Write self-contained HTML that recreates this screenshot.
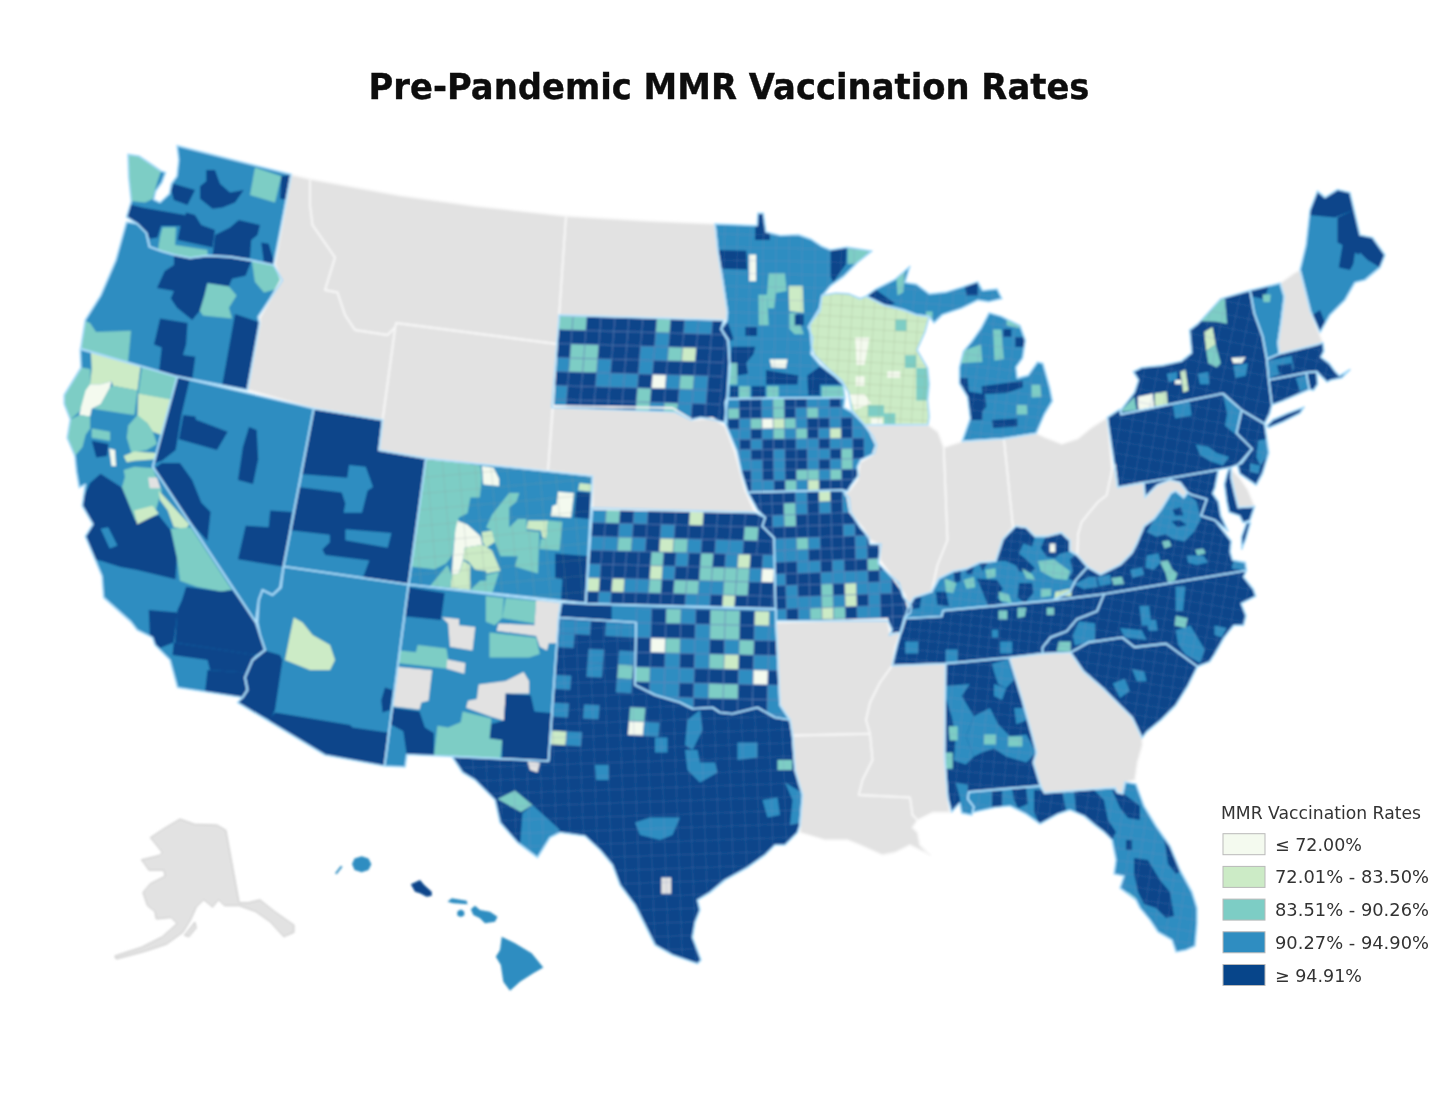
<!DOCTYPE html><html><head><meta charset="utf-8"><title>Pre-Pandemic MMR Vaccination Rates</title>
<style>html,body{margin:0;padding:0;background:#fff}body{width:1440px;height:1114px;overflow:hidden;position:relative;font-family:"Liberation Sans","DejaVu Sans",sans-serif}svg{position:absolute;left:0;top:0;display:block}</style></head><body>
<svg width="1440" height="1114" viewBox="0 0 1440 1114">
<rect width="1440" height="1114" fill="#ffffff"/>
<defs>
<clipPath id="cWA"><polygon points="128,154.4 139,156 151,164 161,171 165.6,172.5 161.9,182.5 155.6,191.25 153.75,199.4 160,202.5 169.4,193.75 171.25,183.75 176.9,176.25 178.75,160 177,145.6 291.25,174.4 273.5,265 252.5,260.6 230,256.9 207.5,255.6 190,258 175,255 161.7,251.25 149.5,246.7 146.4,233 137.2,223.75 126.5,217 131.25,201.25 128.75,177.5"/></clipPath>
<clipPath id="cOR"><polygon points="126.5,222 137.2,223.75 146.4,233 149.5,246.7 161.7,251.25 175,255 190,258 207.5,255.6 230,256.9 252.5,260.6 273.5,265 282.4,280.3 258,317 259.5,323 247.5,390 175,376 80.7,348.5 85.3,320 100.6,295.6 115.8,260.4"/></clipPath>
<clipPath id="cCA"><polygon points="80.2,349.2 177.2,376.7 152.8,466.8 255.6,622 260,635 265,650 252.5,660 245,677.5 247.5,690 242.5,697.5 177.5,687.5 170,660 155,645 152.5,637.5 137.2,630 131.1,622 103.6,597.5 102,576 94.4,557.8 85.3,536.4 92.9,524.2 82.2,505.8 85.3,484.4 79.2,487.5 76.4,471.4 74.9,456 67.2,437.8 70.3,419.5 64.2,404 64.2,395 81,367.5"/></clipPath>
<clipPath id="cNV"><polygon points="177.2,376.7 313.8,408.5 283.5,566.5 281,587.5 272.5,595 262.5,590 258.75,600 255.6,622 152.8,466.8"/></clipPath>
<clipPath id="cID"><polygon points="291,174.5 310,179 310,205 312.5,225 335,257.5 325,290 337.5,292.5 345,315 355,330 387.5,335 395,327.5 382.6,419.8 313.8,408.5 247.5,390 260,322.5 260,317.5 281,280 275,264"/></clipPath>
<clipPath id="cMT"><polygon points="310,179 400,195.5 475,206 566,216 559,316 557,344 396,323 395,327.5 387.5,335 355,330 345,315 337.5,292.5 325,290 335,257.5 312.5,225 310,205"/></clipPath>
<clipPath id="cWY"><polygon points="396,323 557,344 553,408 548,471 425.9,458.3 379,450.2 382.6,419.8"/></clipPath>
<clipPath id="cUT"><polygon points="313.8,408.5 382.6,419.8 379,450.2 425.9,458.3 408.6,584.5 283.5,566.5"/></clipPath>
<clipPath id="cCO"><polygon points="425.9,458.3 592.5,476 585.5,603 408.6,584.5"/></clipPath>
<clipPath id="cAZ"><polygon points="283.5,566.5 408.6,584.5 384.5,766 325,755 237.5,702.5 242.5,697.5 247.5,690 245,677.5 252.5,660 265,650 260,635 257.5,622.5 258.75,600 262.5,590 272.5,595 280,587.5"/></clipPath>
<clipPath id="cNM"><polygon points="408.6,584.5 561.3,602.5 558.75,617.5 548.5,761 451.8,756.3 406.9,754.5 405.1,767 384.5,766"/></clipPath>
<clipPath id="cND"><polygon points="566,216 650,221 714.9,223.8 717.6,249.9 722.9,282.2 727.4,312.7 726.5,320 559.2,315.2"/></clipPath>
<clipPath id="cSD"><polygon points="559.2,315.2 723.7,320 721,329.4 727.8,340.2 729.2,361.9 727.1,397 725.1,402.5 726.4,422.8 714.3,420 700.7,417.4 691.2,420 675,412 647.9,411 552,407.5"/></clipPath>
<clipPath id="cNE"><polygon points="552.5,406 672.5,408 692.5,420 712.5,418 725,426 735,452.5 745,490 755,512.7 592.5,509 592.5,476 548,471"/></clipPath>
<clipPath id="cKS"><polygon points="592.4,508 755,512.4 765.2,517.5 762.3,526.25 774,537.9 775.5,608.5 585.8,603.5"/></clipPath>
<clipPath id="cOK"><polygon points="561,602.5 586,604 776,609.5 776,622.5 780,705 790,720 775,717.5 757.5,707.5 732.5,713.75 720,712.5 712.5,707.5 692.5,708.75 680,702.5 655,695 635,685 636,622.5 558.75,617.5"/></clipPath>
<clipPath id="cTX"><polygon points="558.75,617.5 636,622.5 635,685 655,695 680,702.5 692.5,708.75 712.5,707.5 720,712.5 732.5,713.75 757.5,707.5 775,717.5 790,720 792.5,735 795,770 802.5,795 800,825 797.5,832.5 785,845 775,845 765,855 747.5,867.5 725,880 710,892.5 697.5,900 700,910 695,922.5 692.5,937.5 701,960 697.5,963.75 672.5,955 655,945 645,925 635,905 620,885 612.5,865 600,850 585,836 560,832.5 550,837.5 537.5,857.5 517.5,842.5 500,822.5 495,800 475,780 462.5,772.5 451.8,756.3 548.5,761"/></clipPath>
<clipPath id="cMN"><polygon points="714.9,223.8 757,225.6 757.9,213.1 763.3,213.1 766,231.9 780.4,235.5 798.3,234.6 810.9,239.1 821.7,246.3 830.6,249.9 846.8,247.2 871.9,251 857.6,262.4 843.2,276.8 830.6,285.8 821.7,296.5 819.9,310.9 812.7,319.9 808.2,327 812.7,337.8 810.9,354 819.9,364.7 836,377.3 843.2,384.5 845,397.5 727.4,398.8 730.1,366.5 728.3,339.6 721.2,328.8 726.5,321.7 727.4,312.7 722.9,282.2 717.6,249.9"/></clipPath>
<clipPath id="cIA"><polygon points="727.8,398.6 845,397.5 843.8,407.4 852.3,412.3 864.6,425 873,436.6 876.6,445.1 874.2,453.6 860.8,459.7 857.2,467 858.4,475.5 851.1,485.2 847.5,491.3 842.6,490.1 747.8,492.5 741.7,473.1 736.9,451.2 730.8,436.6 724.7,422 725.9,409.9"/></clipPath>
<clipPath id="cMO"><polygon points="747.8,492.5 842.6,490.1 849.2,498.4 850.6,512.3 860.3,527.5 868.6,537.2 870,544.1 881,544.1 878.3,563.4 889.3,574.5 899,582.8 903.1,596.6 911.4,606.3 910.1,613.2 904.5,617.3 900.4,632.5 889.3,635.3 892.1,629.8 887.9,620.8 775.9,620.8 774,537.9 762.3,526.25 765.2,517.5 757.5,510"/></clipPath>
<clipPath id="cAR"><polygon points="776,622.5 887.5,619 890,634 901,632.5 905,620 895,647.5 892.5,665 880,682.5 870,702.5 866,720 870,733.75 792.5,735.5 790,720 780,705"/></clipPath>
<clipPath id="cLA"><polygon points="792.5,735.5 870,733.75 872.5,760 862.5,780 858.75,795 910,797.5 912.5,815 917.5,820 912.5,827.5 917.5,832.5 920,845 930,855 910,845 895,852.5 882.5,855 860,845 847.5,840 825,840 800,832.5 800,825 802.5,795 795,770"/></clipPath>
<clipPath id="cMS"><polygon points="892.1,665.7 945.6,663.7 944.6,756.5 947.6,797 950,812.5 932.5,812.5 917.5,820 912.5,815 910,797.5 858.75,795 862.5,780 872.5,760 870,733.75 866,720 870,702.5 880,682.5"/></clipPath>
<clipPath id="cAL"><polygon points="945.6,663.7 1009.2,657.6 1022.3,700 1032.4,736.4 1036.5,752.5 1033.4,762.6 1040.5,785.8 968.8,791.9 967.8,799 973.9,807 971.8,815.1 961.7,813.1 959.7,803 951.6,812.1 947.6,797 944.6,756.5"/></clipPath>
<clipPath id="cTN"><polygon points="905,618.5 941.7,616.5 943.1,610.6 1052.5,600.4 1104.1,594 1097,611.2 1076.8,619.2 1066.7,631.3 1050.6,637.4 1042.5,647.5 1042.5,653.6 1009.2,657.6 945.6,663.7 892.1,665.7 897.1,645.5"/></clipPath>
<clipPath id="cKY"><polygon points="914,597.5 931.5,591.7 938.8,578.5 953.3,571.3 967.9,568.3 979.6,562.5 995.6,561 1002.9,539.2 1016,526 1026.3,527.5 1035,536.3 1046.7,536.3 1061.3,532.6 1070,540.6 1070,550.8 1077.3,555.2 1087.5,566.9 1075.8,580 1070,591.7 1052.5,600.4 943.1,610.6 941.7,616.5 905,618.5 908,608"/></clipPath>
<clipPath id="cIL"><polygon points="864.6,425 928,424.6 938,432 943.75,447.5 947.5,540 937.5,565 931.5,591.7 914,597.5 908,608 905,595 892.5,577.5 880,560 880,545 870,540 862.5,527.5 850,512.5 847.5,497.5 845,494 850,490 857.5,480 860,462.5 872.5,455 876,445 870,432.5"/></clipPath>
<clipPath id="cWI"><polygon points="821.8,295.4 836,293 848.5,293.8 860,298.6 866.2,296.2 884,305.1 903.4,309.9 916.3,314.8 929.2,316.4 925,332 917,350 922.8,360 927.6,368.1 929.2,384.2 927.6,400.4 929.2,416.6 928,424.6 864.6,425 851.7,410.1 848.5,392.3 842,381 827.5,368.1 814.5,355.2 811.3,345.5 809.7,324.5 819.4,308.3"/></clipPath>
<clipPath id="cMIU"><polygon points="866.2,296.2 875.9,288.9 895.3,279.2 909.9,266.3 905,282.5 916.3,284.1 929.2,293.8 945.4,292.2 961.6,287.3 977.7,281.7 982.6,290.5 997.1,288.9 1001.9,298.6 989,301.8 977.7,300.2 961.6,308.3 951.9,311.5 942.2,314.8 934.1,322.9 929.2,316.4 916.3,314.8 903.4,309.9 884,305.1"/></clipPath>
<clipPath id="cMI"><polygon points="989,312.8 1001.2,316.2 1006.6,318.9 1020,325.6 1025.4,340.4 1022.7,357.9 1016,367.3 1017.3,378.1 1028.1,375.4 1037.5,362 1042.9,363.3 1049.7,387.5 1052.4,401 1044.3,414.5 1036.2,433.3 1003.9,438.7 962.1,441.4 970.2,418.5 967.5,397 959.4,383.5 959.4,367.3 963.5,351.2 971.5,341.8 981,328.3"/></clipPath>
<clipPath id="cIN"><polygon points="943.75,447.5 962.1,441.4 1003.9,438.7 1013,527 1002.9,539.2 995.6,561 979.6,562.5 967.9,568.3 953.3,571.3 938.8,578.5 931.5,591.7 937.5,565 947.5,540"/></clipPath>
<clipPath id="cOH"><polygon points="1003.9,438.7 1036.2,433.3 1045.7,437.7 1061.8,444 1078,438.6 1092.3,426.9 1107.3,417.5 1112,470 1106.7,495.1 1097.7,502.3 1088.7,513.1 1081.6,522.1 1078,534.6 1077.3,555.2 1070,550.8 1070,540.6 1061.3,532.6 1046.7,536.3 1035,536.3 1026.3,527.5 1016,526 1013,527"/></clipPath>
<clipPath id="cWV"><polygon points="1112,470 1115,465 1117.7,487.3 1143.75,482.5 1145,497.5 1157.5,485 1170,480 1180,482.5 1187.5,492.5 1183.75,497.5 1175.7,490.9 1170.9,493.3 1161.2,509.1 1153.9,518.8 1144.2,526 1136.9,543 1132.1,552.7 1120,564.8 1100.6,574.5 1087.5,566.9 1077.3,555.2 1078,534.6 1081.6,522.1 1088.7,513.1 1097.7,502.3 1106.7,495.1"/></clipPath>
<clipPath id="cPA"><polygon points="1107.3,417.5 1119.8,409.2 1120.8,414.4 1222.9,393.5 1241.7,410.2 1236.5,433.1 1252.1,448.75 1241.7,463.3 1230.2,467.5 1117.7,487.3"/></clipPath>
<clipPath id="cNY"><polygon points="1120.8,414.4 1120.8,410.2 1134.4,392.5 1138.5,380 1133.3,371.7 1141.7,367.5 1162.5,365.4 1181.25,361.25 1191.7,352.9 1189.6,330 1197.9,323.75 1220.8,298.75 1250,290.4 1254.2,313.3 1262.5,336.25 1266.7,359.2 1268.75,380 1271.9,405 1269.8,413.3 1264.6,423.75 1241.7,410.2 1222.9,393.5"/></clipPath>
<clipPath id="cLI"><polygon points="1266.7,425.8 1272.9,419.6 1287.5,413.3 1304.2,407.1 1300,413.3 1283.3,421.7 1268.75,427.9"/></clipPath>
<clipPath id="cNJ"><polygon points="1241.7,410.2 1264.6,423.75 1266.7,438.3 1268.75,452.9 1262.5,473.75 1256.25,485.2 1239.6,473.75 1237.5,465.4 1252.1,448.75 1236.5,433.1"/></clipPath>
<clipPath id="cCT"><polygon points="1268.75,380 1306.25,372.7 1309.4,389.4 1283.3,400.8 1271.9,405"/></clipPath>
<clipPath id="cRI"><polygon points="1306.25,372.7 1316.7,371.7 1317.7,384.2 1313.5,390.4 1309.4,389.4"/></clipPath>
<clipPath id="cMA"><polygon points="1266.7,359.2 1279.2,354 1316.7,344.6 1322.9,342.5 1324,350.8 1320.8,357.1 1329.2,363.3 1335.4,371.7 1339.6,375.8 1350,369.6 1341.7,377.9 1331.25,380 1327.1,382.1 1320.8,375.8 1316.7,371.7 1306.25,372.7 1268.75,380"/></clipPath>
<clipPath id="cVT"><polygon points="1250,290.4 1280.2,283.1 1284.4,296.7 1281.25,321.7 1278.1,342.5 1279.2,354 1266.7,359.2 1262.5,336.25 1254.2,313.3"/></clipPath>
<clipPath id="cNH"><polygon points="1280.2,283.1 1295,272.5 1300,270 1310.4,311.25 1318.75,332.1 1322.9,342.5 1316.7,344.6 1279.2,354 1278.1,342.5 1281.25,321.7 1284.4,296.7"/></clipPath>
<clipPath id="cME"><polygon points="1300,270 1306,245 1310,210 1317.5,191 1325,197.5 1337.5,189.5 1350,192.5 1360,235 1372.5,237.5 1385,255 1380,267.5 1365,280 1355,282.5 1345,300 1330,315 1320,332.5 1310.4,311.25"/></clipPath>
<clipPath id="cMD"><polygon points="1143.75,482.5 1218.5,470 1215,487.7 1212.7,493.5 1218.5,501.7 1220.8,515.7 1228,531 1215,520.3 1201,515.7 1206.8,499.3 1191.7,494.7 1187.5,492.5 1180,482.5 1170,480 1157.5,485 1145,497.5"/></clipPath>
<clipPath id="cDMV"><polygon points="1226.7,474.8 1229,467.8 1231.3,469 1231.3,478.3 1234.8,493.5 1238.3,507.5 1254.7,506.3 1250,520.3 1243,522.7 1239.5,515.7 1229,512.2 1226.7,501.7 1224.3,484.2"/></clipPath>
<clipPath id="cDE"><polygon points="1231.3,469 1240,478 1248,490 1254.7,506.3 1238.3,507.5 1234.8,493.5 1231.3,478.3"/></clipPath>
<clipPath id="cVAES"><polygon points="1246.5,522.7 1250.5,522.7 1245.8,539 1241.8,549 1241.5,536.7"/></clipPath>
<clipPath id="cVA"><polygon points="1187.5,492.5 1191.7,494.7 1206.8,499.3 1201,515.7 1215,520.3 1231.3,541.3 1230.2,551.8 1232.5,560 1245.3,562.4 1246.5,570.5 1104.1,594 1052.5,600.4 1070,591.7 1075.8,580 1087.5,566.9 1100.6,574.5 1120,564.8 1132.1,552.7 1136.9,543 1144.2,526 1153.9,518.8 1161.2,509.1 1170.9,493.3 1175.7,490.9 1183.75,497.5"/></clipPath>
<clipPath id="cNC"><polygon points="1104.1,594 1246.5,570.5 1243.6,577 1253.3,589.1 1255.7,596.3 1241.2,603.6 1246,615.7 1243.6,625.4 1233.9,625.4 1224.2,637.5 1214.5,654.5 1209.7,661.8 1197.5,666.6 1166,643.6 1134.5,647.2 1122.4,637.5 1088.5,642.4 1070.5,652.5 1042.5,653.6 1042.5,647.5 1050.6,637.4 1066.7,631.3 1076.8,619.2 1097,611.2"/></clipPath>
<clipPath id="cSC"><polygon points="1070.5,652.5 1088.5,642.4 1122.4,637.5 1134.5,647.2 1166,643.6 1197.5,666.6 1187.8,686 1175.7,705.4 1161.2,719.9 1146.6,732 1142,738 1132.1,717.5 1117.5,703 1103,688.4 1083.6,671.5"/></clipPath>
<clipPath id="cGA"><polygon points="1009.2,657.6 1042.5,653.6 1070.5,652.5 1083.6,671.5 1103,688.4 1117.5,703 1132.1,717.5 1142,738 1142.5,745 1137.5,762.5 1135,780 1125,782.5 1122.5,793.75 1117.5,792.5 1115,787.5 1044.5,792.9 1040.5,785.8 1033.4,762.6 1036.5,752.5 1032.4,736.4 1022.3,700"/></clipPath>
<clipPath id="cFL"><polygon points="968.8,791.9 1040.5,785.8 1044.5,792.9 1115,787.5 1117.5,792.5 1122.5,793.75 1125,782 1136,784 1144,806 1156,826 1170,846 1180,870 1192,892 1197,908 1197,924 1195,946 1186,950 1176,952 1172,940 1158,932 1150,920 1140,908 1136,900 1120,888 1124,876 1114,874 1116,860 1112,840 1104,832 1096,826 1084,816 1070,810 1058,814 1040,824 1026,814 1010,806 995,807.5 972.5,812.5 973.9,807 967.8,799"/></clipPath>
<clipPath id="cAK"><polygon points="180,819 194.8,824.3 217,825 225.9,830.2 239.2,902.7 248.1,902.7 260,899.8 274.8,911.6 294,925 294,932.4 283.7,936.8 270.3,922 255.5,911.6 239.2,905.7 224.4,905.7 218.5,899.8 212.6,907.2 203.7,899.8 196.3,907.2 190.3,920.5 182.9,932.4 166.6,944.2 144.4,951.6 116.3,959 114.8,956 141.5,947.2 162.2,936.8 177,923.5 171.1,917.6 156.3,919 154.8,911.6 147.4,905.7 142.9,892.4 150.4,883.5 165.2,876.1 163.7,870.2 148.9,870.2 141.5,859.8 159.2,855.4 162.2,852.4 150.4,837.6 163.7,828.7"/></clipPath>
<clipPath id="cAKK"><polygon points="184.4,935.3 194.8,922 196.3,927.9 188.9,936.8"/></clipPath>
<clipPath id="cHI1"><polygon points="501.7,936.7 515,943.3 531.7,953.3 543.3,967.5 533.3,973.3 520,981.7 510,990.8 503.3,981.7 500.8,965 495.8,956.7 500,950"/></clipPath>
<clipPath id="cHI2"><polygon points="470.8,909.2 475,905.8 480,910 490,911.7 497.5,916.7 495,921.7 485,923.3 480,918.3 473.3,915"/></clipPath>
<clipPath id="cHI3"><polygon points="410.8,884.2 420,880 424.2,885 431.7,891.7 431.7,895.8 426.7,896.7 420,893.3 415,891.7"/></clipPath>
<clipPath id="cHI4"><polygon points="447.5,901.7 451.7,898.3 466.7,900.8 467.5,904.2 453.3,903.3"/></clipPath>
<clipPath id="cHI5"><polygon points="352,864 354.5,858.5 361.7,856.2 368.5,858.5 371.4,864.2 368.5,870 361.7,872.2 354.5,870"/></clipPath>
<clipPath id="cHI6"><polygon points="457.3,911.5 460.8,909.6 464.3,911.5 464.3,915.5 460.8,917 457.3,915.5"/></clipPath>
<clipPath id="cHI7"><polygon points="335,873.3 340.8,865.8 342.5,866.7 336.7,874.2"/></clipPath>
<pattern id="tTX" width="13.5" height="13.5" patternUnits="userSpaceOnUse" patternTransform="rotate(-2)"><path d="M0,0H13.5M0,0V13.5" stroke="#7f8fc0" stroke-width="0.9" fill="none" opacity="0.55"/></pattern>
<pattern id="tMN" width="13" height="13" patternUnits="userSpaceOnUse" patternTransform="rotate(1)"><path d="M0,0H13M0,0V13" stroke="#7f8fc0" stroke-width="0.9" fill="none" opacity="0.55"/></pattern>
<pattern id="tWI" width="11" height="11" patternUnits="userSpaceOnUse" patternTransform="rotate(3.5)"><path d="M0,0H11M0,0V11" stroke="#96a585" stroke-width="0.9" fill="none" opacity="0.55"/></pattern>
<pattern id="tMI" width="11" height="11" patternUnits="userSpaceOnUse" patternTransform="rotate(6.5)"><path d="M0,0H11M0,0V11" stroke="#7f8fc0" stroke-width="0.9" fill="none" opacity="0.55"/></pattern>
<pattern id="tMIU" width="13" height="13" patternUnits="userSpaceOnUse" patternTransform="rotate(5)"><path d="M0,0H13M0,0V13" stroke="#7f8fc0" stroke-width="0.9" fill="none" opacity="0.55"/></pattern>
<pattern id="tKY" width="9" height="9" patternUnits="userSpaceOnUse" patternTransform="rotate(6)"><path d="M0,0H9M0,0V9" stroke="#7f8fc0" stroke-width="0.9" fill="none" opacity="0.55"/></pattern>
<pattern id="tTN" width="10" height="10" patternUnits="userSpaceOnUse" patternTransform="rotate(6)"><path d="M0,0H10M0,0V10" stroke="#7f8fc0" stroke-width="0.9" fill="none" opacity="0.55"/></pattern>
<pattern id="tAL" width="12" height="12" patternUnits="userSpaceOnUse" patternTransform="rotate(5)"><path d="M0,0H12M0,0V12" stroke="#7f8fc0" stroke-width="0.9" fill="none" opacity="0.55"/></pattern>
<pattern id="tNC" width="11" height="11" patternUnits="userSpaceOnUse" patternTransform="rotate(10)"><path d="M0,0H11M0,0V11" stroke="#7f8fc0" stroke-width="0.9" fill="none" opacity="0.55"/></pattern>
<pattern id="tSC" width="11" height="11" patternUnits="userSpaceOnUse" patternTransform="rotate(9)"><path d="M0,0H11M0,0V11" stroke="#7f8fc0" stroke-width="0.9" fill="none" opacity="0.55"/></pattern>
<pattern id="tVA" width="9" height="9" patternUnits="userSpaceOnUse" patternTransform="rotate(10)"><path d="M0,0H9M0,0V9" stroke="#7f8fc0" stroke-width="0.9" fill="none" opacity="0.55"/></pattern>
<pattern id="tPA" width="12" height="12" patternUnits="userSpaceOnUse" patternTransform="rotate(10)"><path d="M0,0H12M0,0V12" stroke="#7f8fc0" stroke-width="0.9" fill="none" opacity="0.55"/></pattern>
<pattern id="tNY" width="13" height="13" patternUnits="userSpaceOnUse" patternTransform="rotate(12)"><path d="M0,0H13M0,0V13" stroke="#7f8fc0" stroke-width="0.9" fill="none" opacity="0.55"/></pattern>
<pattern id="tFL" width="12" height="12" patternUnits="userSpaceOnUse" patternTransform="rotate(8)"><path d="M0,0H12M0,0V12" stroke="#7f8fc0" stroke-width="0.9" fill="none" opacity="0.55"/></pattern>
<pattern id="tMD" width="9" height="9" patternUnits="userSpaceOnUse" patternTransform="rotate(11)"><path d="M0,0H9M0,0V9" stroke="#7f8fc0" stroke-width="0.9" fill="none" opacity="0.55"/></pattern>
<pattern id="tNJ" width="10" height="10" patternUnits="userSpaceOnUse" patternTransform="rotate(12)"><path d="M0,0H10M0,0V10" stroke="#7f8fc0" stroke-width="0.9" fill="none" opacity="0.55"/></pattern>
<pattern id="tCT" width="11" height="11" patternUnits="userSpaceOnUse" patternTransform="rotate(13)"><path d="M0,0H11M0,0V11" stroke="#7f8fc0" stroke-width="0.9" fill="none" opacity="0.55"/></pattern>
<pattern id="tMA" width="11" height="11" patternUnits="userSpaceOnUse" patternTransform="rotate(13)"><path d="M0,0H11M0,0V11" stroke="#7f8fc0" stroke-width="0.9" fill="none" opacity="0.55"/></pattern>
<pattern id="tCO" width="16" height="16" patternUnits="userSpaceOnUse" patternTransform="rotate(-5)"><path d="M0,0H16M0,0V16" stroke="#8a9a9a" stroke-width="0.9" fill="none" opacity="0.55"/></pattern>
<filter id="blur" x="0" y="0" width="1440" height="1114" filterUnits="userSpaceOnUse"><feGaussianBlur stdDeviation="0.9"/></filter>
</defs>
<g filter="url(#blur)">
<g stroke-linejoin="round">
<polygon points="128,154.4 139,156 151,164 161,171 165.6,172.5 161.9,182.5 155.6,191.25 153.75,199.4 160,202.5 169.4,193.75 171.25,183.75 176.9,176.25 178.75,160 177,145.6 291.25,174.4 273.5,265 252.5,260.6 230,256.9 207.5,255.6 190,258 175,255 161.7,251.25 149.5,246.7 146.4,233 137.2,223.75 126.5,217 131.25,201.25 128.75,177.5" fill="#2f8dc1"/>
<polygon points="126.5,222 137.2,223.75 146.4,233 149.5,246.7 161.7,251.25 175,255 190,258 207.5,255.6 230,256.9 252.5,260.6 273.5,265 282.4,280.3 258,317 259.5,323 247.5,390 175,376 80.7,348.5 85.3,320 100.6,295.6 115.8,260.4" fill="#2f8dc1"/>
<polygon points="80.2,349.2 177.2,376.7 152.8,466.8 255.6,622 260,635 265,650 252.5,660 245,677.5 247.5,690 242.5,697.5 177.5,687.5 170,660 155,645 152.5,637.5 137.2,630 131.1,622 103.6,597.5 102,576 94.4,557.8 85.3,536.4 92.9,524.2 82.2,505.8 85.3,484.4 79.2,487.5 76.4,471.4 74.9,456 67.2,437.8 70.3,419.5 64.2,404 64.2,395 81,367.5" fill="#2f8dc1"/>
<polygon points="177.2,376.7 313.8,408.5 283.5,566.5 281,587.5 272.5,595 262.5,590 258.75,600 255.6,622 152.8,466.8" fill="#2f8dc1"/>
<polygon points="291,174.5 310,179 310,205 312.5,225 335,257.5 325,290 337.5,292.5 345,315 355,330 387.5,335 395,327.5 382.6,419.8 313.8,408.5 247.5,390 260,322.5 260,317.5 281,280 275,264" fill="#e2e2e2"/>
<polygon points="310,179 400,195.5 475,206 566,216 559,316 557,344 396,323 395,327.5 387.5,335 355,330 345,315 337.5,292.5 325,290 335,257.5 312.5,225 310,205" fill="#e2e2e2"/>
<polygon points="396,323 557,344 553,408 548,471 425.9,458.3 379,450.2 382.6,419.8" fill="#e2e2e2"/>
<polygon points="313.8,408.5 382.6,419.8 379,450.2 425.9,458.3 408.6,584.5 283.5,566.5" fill="#07458a"/>
<polygon points="425.9,458.3 592.5,476 585.5,603 408.6,584.5" fill="#2f8dc1"/>
<polygon points="283.5,566.5 408.6,584.5 384.5,766 325,755 237.5,702.5 242.5,697.5 247.5,690 245,677.5 252.5,660 265,650 260,635 257.5,622.5 258.75,600 262.5,590 272.5,595 280,587.5" fill="#2f8dc1"/>
<polygon points="408.6,584.5 561.3,602.5 558.75,617.5 548.5,761 451.8,756.3 406.9,754.5 405.1,767 384.5,766" fill="#2f8dc1"/>
<polygon points="566,216 650,221 714.9,223.8 717.6,249.9 722.9,282.2 727.4,312.7 726.5,320 559.2,315.2" fill="#e2e2e2"/>
<polygon points="559.2,315.2 723.7,320 721,329.4 727.8,340.2 729.2,361.9 727.1,397 725.1,402.5 726.4,422.8 714.3,420 700.7,417.4 691.2,420 675,412 647.9,411 552,407.5" fill="#07458a"/>
<polygon points="552.5,406 672.5,408 692.5,420 712.5,418 725,426 735,452.5 745,490 755,512.7 592.5,509 592.5,476 548,471" fill="#e2e2e2"/>
<polygon points="592.4,508 755,512.4 765.2,517.5 762.3,526.25 774,537.9 775.5,608.5 585.8,603.5" fill="#07458a"/>
<polygon points="561,602.5 586,604 776,609.5 776,622.5 780,705 790,720 775,717.5 757.5,707.5 732.5,713.75 720,712.5 712.5,707.5 692.5,708.75 680,702.5 655,695 635,685 636,622.5 558.75,617.5" fill="#2f8dc1"/>
<polygon points="558.75,617.5 636,622.5 635,685 655,695 680,702.5 692.5,708.75 712.5,707.5 720,712.5 732.5,713.75 757.5,707.5 775,717.5 790,720 792.5,735 795,770 802.5,795 800,825 797.5,832.5 785,845 775,845 765,855 747.5,867.5 725,880 710,892.5 697.5,900 700,910 695,922.5 692.5,937.5 701,960 697.5,963.75 672.5,955 655,945 645,925 635,905 620,885 612.5,865 600,850 585,836 560,832.5 550,837.5 537.5,857.5 517.5,842.5 500,822.5 495,800 475,780 462.5,772.5 451.8,756.3 548.5,761" fill="#07458a"/>
<polygon points="714.9,223.8 757,225.6 757.9,213.1 763.3,213.1 766,231.9 780.4,235.5 798.3,234.6 810.9,239.1 821.7,246.3 830.6,249.9 846.8,247.2 871.9,251 857.6,262.4 843.2,276.8 830.6,285.8 821.7,296.5 819.9,310.9 812.7,319.9 808.2,327 812.7,337.8 810.9,354 819.9,364.7 836,377.3 843.2,384.5 845,397.5 727.4,398.8 730.1,366.5 728.3,339.6 721.2,328.8 726.5,321.7 727.4,312.7 722.9,282.2 717.6,249.9" fill="#2f8dc1"/>
<polygon points="727.8,398.6 845,397.5 843.8,407.4 852.3,412.3 864.6,425 873,436.6 876.6,445.1 874.2,453.6 860.8,459.7 857.2,467 858.4,475.5 851.1,485.2 847.5,491.3 842.6,490.1 747.8,492.5 741.7,473.1 736.9,451.2 730.8,436.6 724.7,422 725.9,409.9" fill="#2f8dc1"/>
<polygon points="747.8,492.5 842.6,490.1 849.2,498.4 850.6,512.3 860.3,527.5 868.6,537.2 870,544.1 881,544.1 878.3,563.4 889.3,574.5 899,582.8 903.1,596.6 911.4,606.3 910.1,613.2 904.5,617.3 900.4,632.5 889.3,635.3 892.1,629.8 887.9,620.8 775.9,620.8 774,537.9 762.3,526.25 765.2,517.5 757.5,510" fill="#07458a"/>
<polygon points="776,622.5 887.5,619 890,634 901,632.5 905,620 895,647.5 892.5,665 880,682.5 870,702.5 866,720 870,733.75 792.5,735.5 790,720 780,705" fill="#e2e2e2"/>
<polygon points="792.5,735.5 870,733.75 872.5,760 862.5,780 858.75,795 910,797.5 912.5,815 917.5,820 912.5,827.5 917.5,832.5 920,845 930,855 910,845 895,852.5 882.5,855 860,845 847.5,840 825,840 800,832.5 800,825 802.5,795 795,770" fill="#e2e2e2"/>
<polygon points="892.1,665.7 945.6,663.7 944.6,756.5 947.6,797 950,812.5 932.5,812.5 917.5,820 912.5,815 910,797.5 858.75,795 862.5,780 872.5,760 870,733.75 866,720 870,702.5 880,682.5" fill="#e2e2e2"/>
<polygon points="945.6,663.7 1009.2,657.6 1022.3,700 1032.4,736.4 1036.5,752.5 1033.4,762.6 1040.5,785.8 968.8,791.9 967.8,799 973.9,807 971.8,815.1 961.7,813.1 959.7,803 951.6,812.1 947.6,797 944.6,756.5" fill="#07458a"/>
<polygon points="905,618.5 941.7,616.5 943.1,610.6 1052.5,600.4 1104.1,594 1097,611.2 1076.8,619.2 1066.7,631.3 1050.6,637.4 1042.5,647.5 1042.5,653.6 1009.2,657.6 945.6,663.7 892.1,665.7 897.1,645.5" fill="#07458a"/>
<polygon points="914,597.5 931.5,591.7 938.8,578.5 953.3,571.3 967.9,568.3 979.6,562.5 995.6,561 1002.9,539.2 1016,526 1026.3,527.5 1035,536.3 1046.7,536.3 1061.3,532.6 1070,540.6 1070,550.8 1077.3,555.2 1087.5,566.9 1075.8,580 1070,591.7 1052.5,600.4 943.1,610.6 941.7,616.5 905,618.5 908,608" fill="#2f8dc1"/>
<polygon points="864.6,425 928,424.6 938,432 943.75,447.5 947.5,540 937.5,565 931.5,591.7 914,597.5 908,608 905,595 892.5,577.5 880,560 880,545 870,540 862.5,527.5 850,512.5 847.5,497.5 845,494 850,490 857.5,480 860,462.5 872.5,455 876,445 870,432.5" fill="#e2e2e2"/>
<polygon points="821.8,295.4 836,293 848.5,293.8 860,298.6 866.2,296.2 884,305.1 903.4,309.9 916.3,314.8 929.2,316.4 925,332 917,350 922.8,360 927.6,368.1 929.2,384.2 927.6,400.4 929.2,416.6 928,424.6 864.6,425 851.7,410.1 848.5,392.3 842,381 827.5,368.1 814.5,355.2 811.3,345.5 809.7,324.5 819.4,308.3" fill="#ccebc6"/>
<polygon points="866.2,296.2 875.9,288.9 895.3,279.2 909.9,266.3 905,282.5 916.3,284.1 929.2,293.8 945.4,292.2 961.6,287.3 977.7,281.7 982.6,290.5 997.1,288.9 1001.9,298.6 989,301.8 977.7,300.2 961.6,308.3 951.9,311.5 942.2,314.8 934.1,322.9 929.2,316.4 916.3,314.8 903.4,309.9 884,305.1" fill="#2f8dc1"/>
<polygon points="989,312.8 1001.2,316.2 1006.6,318.9 1020,325.6 1025.4,340.4 1022.7,357.9 1016,367.3 1017.3,378.1 1028.1,375.4 1037.5,362 1042.9,363.3 1049.7,387.5 1052.4,401 1044.3,414.5 1036.2,433.3 1003.9,438.7 962.1,441.4 970.2,418.5 967.5,397 959.4,383.5 959.4,367.3 963.5,351.2 971.5,341.8 981,328.3" fill="#2f8dc1"/>
<polygon points="943.75,447.5 962.1,441.4 1003.9,438.7 1013,527 1002.9,539.2 995.6,561 979.6,562.5 967.9,568.3 953.3,571.3 938.8,578.5 931.5,591.7 937.5,565 947.5,540" fill="#e2e2e2"/>
<polygon points="1003.9,438.7 1036.2,433.3 1045.7,437.7 1061.8,444 1078,438.6 1092.3,426.9 1107.3,417.5 1112,470 1106.7,495.1 1097.7,502.3 1088.7,513.1 1081.6,522.1 1078,534.6 1077.3,555.2 1070,550.8 1070,540.6 1061.3,532.6 1046.7,536.3 1035,536.3 1026.3,527.5 1016,526 1013,527" fill="#e2e2e2"/>
<polygon points="1112,470 1115,465 1117.7,487.3 1143.75,482.5 1145,497.5 1157.5,485 1170,480 1180,482.5 1187.5,492.5 1183.75,497.5 1175.7,490.9 1170.9,493.3 1161.2,509.1 1153.9,518.8 1144.2,526 1136.9,543 1132.1,552.7 1120,564.8 1100.6,574.5 1087.5,566.9 1077.3,555.2 1078,534.6 1081.6,522.1 1088.7,513.1 1097.7,502.3 1106.7,495.1" fill="#e2e2e2"/>
<polygon points="1107.3,417.5 1119.8,409.2 1120.8,414.4 1222.9,393.5 1241.7,410.2 1236.5,433.1 1252.1,448.75 1241.7,463.3 1230.2,467.5 1117.7,487.3" fill="#07458a"/>
<polygon points="1120.8,414.4 1120.8,410.2 1134.4,392.5 1138.5,380 1133.3,371.7 1141.7,367.5 1162.5,365.4 1181.25,361.25 1191.7,352.9 1189.6,330 1197.9,323.75 1220.8,298.75 1250,290.4 1254.2,313.3 1262.5,336.25 1266.7,359.2 1268.75,380 1271.9,405 1269.8,413.3 1264.6,423.75 1241.7,410.2 1222.9,393.5" fill="#07458a"/>
<polygon points="1266.7,425.8 1272.9,419.6 1287.5,413.3 1304.2,407.1 1300,413.3 1283.3,421.7 1268.75,427.9" fill="#07458a"/>
<polygon points="1241.7,410.2 1264.6,423.75 1266.7,438.3 1268.75,452.9 1262.5,473.75 1256.25,485.2 1239.6,473.75 1237.5,465.4 1252.1,448.75 1236.5,433.1" fill="#07458a"/>
<polygon points="1268.75,380 1306.25,372.7 1309.4,389.4 1283.3,400.8 1271.9,405" fill="#07458a"/>
<polygon points="1306.25,372.7 1316.7,371.7 1317.7,384.2 1313.5,390.4 1309.4,389.4" fill="#07458a"/>
<polygon points="1266.7,359.2 1279.2,354 1316.7,344.6 1322.9,342.5 1324,350.8 1320.8,357.1 1329.2,363.3 1335.4,371.7 1339.6,375.8 1350,369.6 1341.7,377.9 1331.25,380 1327.1,382.1 1320.8,375.8 1316.7,371.7 1306.25,372.7 1268.75,380" fill="#07458a"/>
<polygon points="1250,290.4 1280.2,283.1 1284.4,296.7 1281.25,321.7 1278.1,342.5 1279.2,354 1266.7,359.2 1262.5,336.25 1254.2,313.3" fill="#2f8dc1"/>
<polygon points="1280.2,283.1 1295,272.5 1300,270 1310.4,311.25 1318.75,332.1 1322.9,342.5 1316.7,344.6 1279.2,354 1278.1,342.5 1281.25,321.7 1284.4,296.7" fill="#e2e2e2"/>
<polygon points="1300,270 1306,245 1310,210 1317.5,191 1325,197.5 1337.5,189.5 1350,192.5 1360,235 1372.5,237.5 1385,255 1380,267.5 1365,280 1355,282.5 1345,300 1330,315 1320,332.5 1310.4,311.25" fill="#2f8dc1"/>
<polygon points="1143.75,482.5 1218.5,470 1215,487.7 1212.7,493.5 1218.5,501.7 1220.8,515.7 1228,531 1215,520.3 1201,515.7 1206.8,499.3 1191.7,494.7 1187.5,492.5 1180,482.5 1170,480 1157.5,485 1145,497.5" fill="#07458a"/>
<polygon points="1226.7,474.8 1229,467.8 1231.3,469 1231.3,478.3 1234.8,493.5 1238.3,507.5 1254.7,506.3 1250,520.3 1243,522.7 1239.5,515.7 1229,512.2 1226.7,501.7 1224.3,484.2" fill="#07458a"/>
<polygon points="1231.3,469 1240,478 1248,490 1254.7,506.3 1238.3,507.5 1234.8,493.5 1231.3,478.3" fill="#e2e2e2"/>
<polygon points="1246.5,522.7 1250.5,522.7 1245.8,539 1241.8,549 1241.5,536.7" fill="#07458a"/>
<polygon points="1187.5,492.5 1191.7,494.7 1206.8,499.3 1201,515.7 1215,520.3 1231.3,541.3 1230.2,551.8 1232.5,560 1245.3,562.4 1246.5,570.5 1104.1,594 1052.5,600.4 1070,591.7 1075.8,580 1087.5,566.9 1100.6,574.5 1120,564.8 1132.1,552.7 1136.9,543 1144.2,526 1153.9,518.8 1161.2,509.1 1170.9,493.3 1175.7,490.9 1183.75,497.5" fill="#07458a"/>
<polygon points="1104.1,594 1246.5,570.5 1243.6,577 1253.3,589.1 1255.7,596.3 1241.2,603.6 1246,615.7 1243.6,625.4 1233.9,625.4 1224.2,637.5 1214.5,654.5 1209.7,661.8 1197.5,666.6 1166,643.6 1134.5,647.2 1122.4,637.5 1088.5,642.4 1070.5,652.5 1042.5,653.6 1042.5,647.5 1050.6,637.4 1066.7,631.3 1076.8,619.2 1097,611.2" fill="#07458a"/>
<polygon points="1070.5,652.5 1088.5,642.4 1122.4,637.5 1134.5,647.2 1166,643.6 1197.5,666.6 1187.8,686 1175.7,705.4 1161.2,719.9 1146.6,732 1142,738 1132.1,717.5 1117.5,703 1103,688.4 1083.6,671.5" fill="#07458a"/>
<polygon points="1009.2,657.6 1042.5,653.6 1070.5,652.5 1083.6,671.5 1103,688.4 1117.5,703 1132.1,717.5 1142,738 1142.5,745 1137.5,762.5 1135,780 1125,782.5 1122.5,793.75 1117.5,792.5 1115,787.5 1044.5,792.9 1040.5,785.8 1033.4,762.6 1036.5,752.5 1032.4,736.4 1022.3,700" fill="#e2e2e2"/>
<polygon points="968.8,791.9 1040.5,785.8 1044.5,792.9 1115,787.5 1117.5,792.5 1122.5,793.75 1125,782 1136,784 1144,806 1156,826 1170,846 1180,870 1192,892 1197,908 1197,924 1195,946 1186,950 1176,952 1172,940 1158,932 1150,920 1140,908 1136,900 1120,888 1124,876 1114,874 1116,860 1112,840 1104,832 1096,826 1084,816 1070,810 1058,814 1040,824 1026,814 1010,806 995,807.5 972.5,812.5 973.9,807 967.8,799" fill="#2f8dc1"/>
<polygon points="180,819 194.8,824.3 217,825 225.9,830.2 239.2,902.7 248.1,902.7 260,899.8 274.8,911.6 294,925 294,932.4 283.7,936.8 270.3,922 255.5,911.6 239.2,905.7 224.4,905.7 218.5,899.8 212.6,907.2 203.7,899.8 196.3,907.2 190.3,920.5 182.9,932.4 166.6,944.2 144.4,951.6 116.3,959 114.8,956 141.5,947.2 162.2,936.8 177,923.5 171.1,917.6 156.3,919 154.8,911.6 147.4,905.7 142.9,892.4 150.4,883.5 165.2,876.1 163.7,870.2 148.9,870.2 141.5,859.8 159.2,855.4 162.2,852.4 150.4,837.6 163.7,828.7" fill="#e2e2e2"/>
<polygon points="184.4,935.3 194.8,922 196.3,927.9 188.9,936.8" fill="#e2e2e2"/>
<polygon points="501.7,936.7 515,943.3 531.7,953.3 543.3,967.5 533.3,973.3 520,981.7 510,990.8 503.3,981.7 500.8,965 495.8,956.7 500,950" fill="#2f8dc1"/>
<polygon points="470.8,909.2 475,905.8 480,910 490,911.7 497.5,916.7 495,921.7 485,923.3 480,918.3 473.3,915" fill="#2f8dc1"/>
<polygon points="410.8,884.2 420,880 424.2,885 431.7,891.7 431.7,895.8 426.7,896.7 420,893.3 415,891.7" fill="#07458a"/>
<polygon points="447.5,901.7 451.7,898.3 466.7,900.8 467.5,904.2 453.3,903.3" fill="#2f8dc1"/>
<polygon points="352,864 354.5,858.5 361.7,856.2 368.5,858.5 371.4,864.2 368.5,870 361.7,872.2 354.5,870" fill="#2f8dc1"/>
<polygon points="457.3,911.5 460.8,909.6 464.3,911.5 464.3,915.5 460.8,917 457.3,915.5" fill="#2f8dc1"/>
<polygon points="335,873.3 340.8,865.8 342.5,866.7 336.7,874.2" fill="#2f8dc1"/>
</g>
<polygon clip-path="url(#cWA)" points="126,152 139,156 151,164 161,171 157.5,181 155,190 152.5,199 145,202.5 131,201 126,180" fill="#7dcdc5"/>
<polygon clip-path="url(#cWA)" points="128,204 142.5,207.5 185,215 182.5,226 161,226 157.5,237.5 150,238.75 145,232 137.5,228 126,216" fill="#07458a"/>
<polygon clip-path="url(#cWA)" points="162.5,227.5 176,227.5 175,245 207.5,250 207.5,258 190,260 175,257 157.5,253 160,237.5" fill="#7dcdc5"/>
<polygon clip-path="url(#cWA)" points="173.75,183.75 195,190 190,200 187.5,205 173.75,200 171.25,190" fill="#07458a"/>
<polygon clip-path="url(#cWA)" points="206.25,170 215,170 220,183.75 230,192.5 243.75,190 235,202.5 222.5,207.5 212.5,208.75 200,198.75 200,186.25 206.25,181.25" fill="#07458a"/>
<polygon clip-path="url(#cWA)" points="186.25,212.5 195,215 201.25,225 215,230 212.5,247.5 177.5,240 180,227.5" fill="#07458a"/>
<polygon clip-path="url(#cWA)" points="215,235 230,227.5 238.75,220 260,225 257.5,235 251.25,240 250,258 230,259 212.5,256" fill="#07458a"/>
<polygon clip-path="url(#cWA)" points="261.25,242.5 268.75,243.75 275,265 263.75,262" fill="#07458a"/>
<polygon clip-path="url(#cWA)" points="281.25,176.25 292,174.4 287.5,200 280,198.75" fill="#07458a"/>
<polygon clip-path="url(#cWA)" points="255,167.5 281.25,176.25 275,202.5 250,195" fill="#7dcdc5"/>
<polygon clip-path="url(#cOR)" points="173.9,252 192.2,255 212,253 238,256 251.8,260 245.7,275.7 232,278.75 228.9,286.4 207.5,283.3 204.5,295.6 199.9,310.8 192.2,320 177,307.8 170.8,298.6 173.9,291 157,288 164.7,271 173.9,265" fill="#07458a"/>
<polygon clip-path="url(#cOR)" points="251.8,260 275,264 285,280.3 274.7,289.5 264,292.5 254.9,281.8" fill="#7dcdc5"/>
<polygon clip-path="url(#cOR)" points="207.5,283.3 228.9,286.4 236.5,295.6 228.9,307.8 232,318.5 202.9,315.4 199.9,310.8 204.5,295.6" fill="#7dcdc5"/>
<polygon clip-path="url(#cOR)" points="160.1,318.5 187.6,323 186.1,344.5 183,355 195.3,356.7 192.2,380 158.6,375 161.7,347.5 154,344.5" fill="#07458a"/>
<polygon clip-path="url(#cOR)" points="235,314 262,323 250,392 222,386" fill="#07458a"/>
<polygon clip-path="url(#cOR)" points="83,320 90,323 96,332 131,330.7 128,362 78,348" fill="#7dcdc5"/>
<polygon clip-path="url(#cCA)" points="81,367.5 90.1,369 90.1,390.4 79.4,411.8 70.3,419.5 62,404 62,395" fill="#7dcdc5"/>
<polygon clip-path="url(#cCA)" points="90.9,352 140.6,366 137.5,390.4 113,385.8 111.5,381.25 100.8,384.3 90.1,384.3 91.7,369" fill="#ccebc6"/>
<polygon clip-path="url(#cCA)" points="142,367 178,376 169.6,399.6 138.3,393.5" fill="#7dcdc5"/>
<polygon clip-path="url(#cCA)" points="90.1,384.3 100.8,384.3 111.5,381.25 110,387.4 100.8,404.2 91.7,408.75 90.1,416.4 79.4,414.9 81,407.2 85.6,390.4" fill="#f4faef"/>
<polygon clip-path="url(#cCA)" points="113,385.8 137.5,390.4 134.4,414.9 122.2,413.3 93.2,408.75 100.8,404.2 110,387.4" fill="#7dcdc5"/>
<polygon clip-path="url(#cCA)" points="138.3,393.5 171,399.6 161,434.7 152.8,431.7 146.7,422.5 140.6,422.5 137.5,414.9" fill="#ccebc6"/>
<polygon clip-path="url(#cCA)" points="70.3,419.5 79.4,414.9 90.1,416.4 90.1,428.6 85.6,434.7 82.5,447 74.9,456 65,437.8" fill="#7dcdc5"/>
<polygon clip-path="url(#cCA)" points="91.7,428.6 110,431.7 110,440.8 91.7,437.8" fill="#7dcdc5"/>
<polygon clip-path="url(#cCA)" points="128.3,425.6 137.5,414.9 146.7,422.5 152.8,431.7 157,443.9 146.7,450 131.4,453 126.8,437.8" fill="#7dcdc5"/>
<polygon clip-path="url(#cCA)" points="91.7,440.8 108.5,443.9 107,456 96.3,457.6" fill="#07458a"/>
<polygon clip-path="url(#cCA)" points="109.2,448.5 115,450 116,466 111.5,466" fill="#f4faef"/>
<polygon clip-path="url(#cCA)" points="123.75,456 134.4,451.5 156,453 155,459.2 134.4,460.7 126.8,462.2" fill="#ccebc6"/>
<polygon clip-path="url(#cCA)" points="123.75,469.9 134.4,466.8 154,468.3 153.3,469.2 161.7,490.6 155.6,510.4 135.7,521 121.9,487.5 125,477" fill="#7dcdc5"/>
<polygon clip-path="url(#cCA)" points="148.2,477.5 157,477.5 160.4,488.2 149.7,488.2" fill="#e2e2e2"/>
<polygon clip-path="url(#cCA)" points="89.9,482.9 100.6,473.75 121.9,487.5 135.7,521 158.6,515 170.8,530.3 177,557.8 175.4,579.2 137.2,570 120.4,567 100.6,560.8 92,559 83,536.4 90,524.2 80,505.8" fill="#07458a"/>
<polygon clip-path="url(#cCA)" points="100.6,528.75 108.2,527.2 117.4,545.6 109.7,548.6" fill="#2f8dc1"/>
<polygon clip-path="url(#cCA)" points="134.2,510.4 152.5,505.8 158.6,513.5 137.2,524.2" fill="#ccebc6"/>
<polygon clip-path="url(#cCA)" points="158.6,490.6 189.2,524.2 186.1,528.75 173.9,527.2 167.8,510.4 160,500" fill="#ccebc6"/>
<polygon clip-path="url(#cCA)" points="170.8,528.75 190.7,527.2 232,589.9 221.3,591.4 196.8,586.8 180,580.7 177,557.8" fill="#7dcdc5"/>
<polygon clip-path="url(#cCA)" points="186.1,586.8 221.3,591.4 232,589.9 258,622 262,635 267,650 255,655 175,642.5 177.5,610 182,600" fill="#07458a"/>
<polygon clip-path="url(#cCA)" points="148.75,610 177.5,612.5 173.75,642.5 160,648 150,640" fill="#07458a"/>
<polygon clip-path="url(#cCA)" points="173.75,642.5 255,655 252.5,660 246.25,672.5 210,670 207.5,660 172.5,655" fill="#07458a"/>
<polygon clip-path="url(#cCA)" points="207.5,670 246.25,672.5 247,677.5 250,690 243,699 205,692" fill="#07458a"/>
<polygon clip-path="url(#cNV)" points="176,376 189.5,380.5 181.8,413.3 175.7,450 162,460.7 152,464" fill="#07458a"/>
<polygon clip-path="url(#cNV)" points="183.3,414.9 195.6,416.4 195.6,419.5 227.7,431.7 217,450 178.8,439.3" fill="#07458a"/>
<polygon clip-path="url(#cNV)" points="249,427 256.7,430 258.2,459.2 253,484 238,480 242.9,447" fill="#07458a"/>
<polygon clip-path="url(#cNV)" points="161.7,463 180,463 192.2,479.9 201.4,502.8 210.6,512 207.5,541 192.2,524.2 152,470" fill="#07458a"/>
<polygon clip-path="url(#cNV)" points="270.2,510.4 292,512 285,567 238,559.3 245.7,525.7 268.6,527.2" fill="#07458a"/>
<polygon clip-path="url(#cAZ)" points="293.75,617.5 302.5,622.5 312.5,635 330,645 335,660 330,670 310,670 285,660 290,635" fill="#ccebc6"/>
<polygon clip-path="url(#cAZ)" points="263,650 280,655 282.5,660 275,710 270,720 235,703 242.5,697.5 247.5,690 245,677.5 252.5,660" fill="#07458a"/>
<polygon clip-path="url(#cAZ)" points="275,712.5 350,725 352.5,727.5 387.5,732.5 386,768 325,757 268,721" fill="#07458a"/>
<polygon clip-path="url(#cAZ)" points="385,687.5 392.5,690 390,710 382.5,712.5 381.25,700" fill="#07458a"/>
<polygon clip-path="url(#cUT)" points="300,474.1 347.3,477.8 349.1,464.9 365.7,466.7 373,487 367.5,490.7 362,512.7 343.6,512.7 345.4,503.5 341.7,492.5 298,487" fill="#2f8dc1"/>
<polygon clip-path="url(#cUT)" points="290,530.2 329.8,534.8 329.8,542.2 322.4,549.5 325.2,555 369.3,560.6 362,580 280,568" fill="#2f8dc1"/>
<polygon clip-path="url(#cUT)" points="345.4,529.3 391.4,533 387.7,547.7 345.4,540.3" fill="#2f8dc1"/>
<polygon clip-path="url(#cCO)" points="424,457 480.5,465.8 481.9,478.7 479.7,497.4 470.4,497.4 467.5,513.2 458.9,517.5 455.3,530.5 452.4,554.9 446,563.5 434.5,569.3 410,566.4" fill="#7dcdc5"/>
<polygon clip-path="url(#cCO)" points="481.9,466 493.4,467.5 499.1,478.7 499.1,485.9 483.3,484.5" fill="#f4faef"/>
<polygon clip-path="url(#cCO)" points="492,514.7 509.2,493.1 519.3,493.1 516.4,501.7 509.2,507.5 509.2,527.6 517.8,519 526.4,519 526.4,530.5 539.4,531.9 537.9,573.6 514.9,566.4 517.8,556.3 500.6,556.3 494.8,542 492,530.5 486.2,527.6" fill="#7dcdc5"/>
<polygon clip-path="url(#cCO)" points="457.5,520.4 467.5,524.7 480.5,536.2 482.6,544.8 464.7,547.7 463.2,559.2 458.9,573.6 451.7,575 453.2,553.4 455.3,530.5" fill="#f4faef"/>
<polygon clip-path="url(#cCO)" points="464.7,547.7 482.6,544.8 492,550.6 500.6,570.7 486.2,573.6 474.7,569.3 469,562 463.2,559.2" fill="#ccebc6"/>
<polygon clip-path="url(#cCO)" points="481.9,531.9 492,530.5 494.8,542 486.2,547.7 482.6,542" fill="#ccebc6"/>
<polygon clip-path="url(#cCO)" points="451.7,575 458.9,573.6 463.2,560.6 470.4,565 470.4,590 450.3,588" fill="#ccebc6"/>
<polygon clip-path="url(#cCO)" points="430.2,586 447.4,565 451.7,575 450.3,588" fill="#7dcdc5"/>
<polygon clip-path="url(#cCO)" points="470.4,590 486.2,575 499.1,572.1 492,594" fill="#7dcdc5"/>
<polygon clip-path="url(#cCO)" points="470.4,569.3 486.2,571 486.2,580.7 470.4,580.7" fill="#2f8dc1"/>
<polygon clip-path="url(#cCO)" points="527.9,520.4 548,520.4 546.6,539.1 542.2,537.6 540.8,530.5 526.4,529" fill="#ccebc6"/>
<polygon clip-path="url(#cCO)" points="548,520.4 562.4,521.8 559.5,550.6 539.4,549.1 540.8,539.1 546.6,539.1" fill="#7dcdc5"/>
<polygon clip-path="url(#cCO)" points="558,491.7 573.9,493.1 571,517.5 550.9,516.1 552.3,506 556.6,504.6" fill="#f4faef"/>
<polygon clip-path="url(#cCO)" points="576.7,491.7 593,493.1 590,519 573.9,517.5" fill="#07458a"/>
<polygon clip-path="url(#cCO)" points="579.6,483 593,484.5 593,491.7 578.2,490.2" fill="#ccebc6"/>
<polygon clip-path="url(#cCO)" points="555.2,553.4 590,556.3 588,605 560.9,601 562.4,579.3 555.2,577.9" fill="#07458a"/>
<polygon clip-path="url(#cNM)" points="407,587 444.6,593 441,619.9 404,616.3" fill="#07458a"/>
<polygon clip-path="url(#cNM)" points="400,650.4 415.9,652.2 417.7,645 446.4,648.6 448.2,659.4 446.4,668.4 397,663" fill="#7dcdc5"/>
<polygon clip-path="url(#cNM)" points="394,666.6 432.1,670.2 428.5,700.7 421.3,702.5 419.5,709.6 390,706" fill="#e2e2e2"/>
<polygon clip-path="url(#cNM)" points="441.9,617.2 459,619 459,625.3 475.2,627.1 472.5,650.4 450,646.8 448.2,623.5" fill="#e2e2e2"/>
<polygon clip-path="url(#cNM)" points="447.3,659.4 465.3,663 464.4,673.7 446.4,668.4" fill="#e2e2e2"/>
<polygon clip-path="url(#cNM)" points="485.9,596 503.9,598 502.1,618.1 494.9,625.3 485.9,621.7" fill="#7dcdc5"/>
<polygon clip-path="url(#cNM)" points="505.7,598 536.2,601 534.4,623.5 502.1,618.1" fill="#7dcdc5"/>
<polygon clip-path="url(#cNM)" points="536.2,600 563,602 559,643.2 548.8,643.2 547,650.4 539.8,646.8 536.2,636 496.7,630.7 498.5,623.5 534.4,625.3" fill="#e2e2e2"/>
<polygon clip-path="url(#cNM)" points="489.5,632.5 536.2,637.8 539.8,654 529,657.6 489.5,657.6" fill="#7dcdc5"/>
<polygon clip-path="url(#cNM)" points="478.7,684.5 505.7,680.9 523.6,672 529,680.9 529,693.5 505.7,693.5 503.9,720.4 491.3,716.8 466.2,707.8 468,700.7 476.9,698.9" fill="#e2e2e2"/>
<polygon clip-path="url(#cNM)" points="505.7,693.5 530.8,695.3 534.4,711.4 553,713.2 550,763 502.1,759 502.1,740.2 489.5,738.4 491.3,724 503.9,720.4" fill="#07458a"/>
<polygon clip-path="url(#cNM)" points="462.6,711.4 491.3,718.6 489.5,738.4 502.1,740.2 500.3,759 433.9,757 437.5,725.8 448.2,727.6 460.8,722.2" fill="#7dcdc5"/>
<polygon clip-path="url(#cNM)" points="392,707.8 419.5,711.4 424.9,727.6 433.9,733 433.9,757 406.9,756 403.3,731.2 390,724" fill="#07458a"/>
<polygon clip-path="url(#cOK)" points="560,602 611.6,604.5 611.6,620 559,619" fill="#07458a"/>
<polygon clip-path="url(#cMN)" points="755.3,225.6 757.9,212 763.3,212 766,231.9 770,232 770,240 755,240" fill="#07458a"/>
<polygon clip-path="url(#cMN)" points="715,249.9 746.3,250.8 747.2,269.6 720,268.7" fill="#07458a"/>
<polygon clip-path="url(#cMN)" points="749,254.4 756.1,254.4 756.1,281.3 749,281.3" fill="#f4faef"/>
<polygon clip-path="url(#cMN)" points="830.6,248 846.8,246 845.9,264.2 833.3,282 830.6,276.8" fill="#07458a"/>
<polygon clip-path="url(#cMN)" points="847.7,246 873,250 857.6,264 847.7,264" fill="#7dcdc5"/>
<polygon clip-path="url(#cMN)" points="768.7,273.2 784.9,273.2 786.7,291.1 775.9,292.9 774.1,308.2 767.8,308.2 766.9,295.6" fill="#7dcdc5"/>
<polygon clip-path="url(#cMN)" points="758.5,294.7 766.9,294.7 768.7,325.2 758.8,325.2" fill="#7dcdc5"/>
<polygon clip-path="url(#cMN)" points="788.5,285.8 802.8,285.8 803.7,312.7 789.4,310.9" fill="#ccebc6"/>
<polygon clip-path="url(#cMN)" points="789.4,312.7 796.5,312.7 803.7,334.2 794.7,334.2 789.4,328.8" fill="#7dcdc5"/>
<polygon clip-path="url(#cMN)" points="794.7,314.5 803.7,314.5 803.7,325.2 794.7,325.2" fill="#07458a"/>
<polygon clip-path="url(#cMN)" points="745.4,327 757,327 757,336 745.4,336" fill="#07458a"/>
<polygon clip-path="url(#cMN)" points="720,321.7 728.3,323.5 733.7,339.6 727,341.4" fill="#07458a"/>
<polygon clip-path="url(#cMN)" points="731.9,346.8 755.3,346.8 753.5,354 746.3,362.9 748.1,373.7 737.3,375.5 730.1,361.1" fill="#07458a"/>
<polygon clip-path="url(#cMN)" points="729,362.9 737.3,362.9 737.3,384.5 729,384.5" fill="#7dcdc5"/>
<polygon clip-path="url(#cMN)" points="769.6,359.3 787.6,359.3 785.8,368.3 771.4,367.4" fill="#f4faef"/>
<polygon clip-path="url(#cMN)" points="766,370.1 798.3,375.5 797.4,384.5 766,384.5" fill="#07458a"/>
<polygon clip-path="url(#cMN)" points="807.3,375.5 819.9,366.5 845,384.5 819.9,384.5 819.9,395.2 808.2,395.2" fill="#07458a"/>
<polygon clip-path="url(#cMN)" points="730.1,386.3 738.2,386.3 738.2,399 730.1,399" fill="#07458a"/>
<polygon clip-path="url(#cMN)" points="739.1,386.3 749.9,386.3 749.9,399 739.1,399" fill="#7dcdc5"/>
<polygon clip-path="url(#cMN)" points="751.7,386.3 765.1,386.3 765.1,399 751.7,399" fill="#07458a"/>
<polygon clip-path="url(#cMN)" points="766.9,386.3 778.6,386.3 778.6,399 766.9,399" fill="#7dcdc5"/>
<polygon clip-path="url(#cMN)" points="821.7,386.3 846,386.3 846,399 821.7,399" fill="#7dcdc5"/>
<polygon clip-path="url(#cWI)" points="854.9,337.4 869.5,337.4 867.9,347.1 864.6,364.9 856.5,364.9 855.7,347.1" fill="#f4faef"/>
<polygon clip-path="url(#cWI)" points="855.7,376.2 864.6,376.2 864.6,385.9 855.7,385.9" fill="#f4faef"/>
<polygon clip-path="url(#cWI)" points="887.2,371.3 900.2,371.3 900.2,377.8 887.2,377.8" fill="#f4faef"/>
<polygon clip-path="url(#cWI)" points="848.5,393.9 864.6,393.9 871.1,403.6 854.9,410.1" fill="#f4faef"/>
<polygon clip-path="url(#cWI)" points="895.3,319.6 906.6,319.6 906.6,330.9 895.3,330.9" fill="#7dcdc5"/>
<polygon clip-path="url(#cWI)" points="905,355.2 916.3,355.2 916.3,368.1 905,368.1" fill="#7dcdc5"/>
<polygon clip-path="url(#cWI)" points="916.3,368.1 930,368.1 930,400.4 916.3,400.4" fill="#7dcdc5"/>
<polygon clip-path="url(#cWI)" points="867.9,405.2 884,405.2 884,416.6 867.9,416.6" fill="#7dcdc5"/>
<polygon clip-path="url(#cWI)" points="884,413.3 895.3,413.3 895.3,426 884,426" fill="#7dcdc5"/>
<polygon clip-path="url(#cWI)" points="871.1,418.2 882.4,418.2 882.4,426 871.1,426" fill="#f4faef"/>
<polygon clip-path="url(#cMIU)" points="864,296.2 875.9,289.7 895.3,303.5 884,306.5" fill="#07458a"/>
<polygon clip-path="url(#cMIU)" points="896.5,279.2 905,269.5 903.4,292.2 897.5,295.4" fill="#7dcdc5"/>
<polygon clip-path="url(#cMIU)" points="964.8,286 977.7,281 977.7,295.4 966.4,295.4" fill="#07458a"/>
<polygon clip-path="url(#cMIU)" points="926,311.5 932.5,311.5 932.5,324 926,324" fill="#7dcdc5"/>
<polygon clip-path="url(#cMI)" points="993.1,329.6 1001.2,329.6 1003.9,359.3 994.4,360.6" fill="#7dcdc5"/>
<polygon clip-path="url(#cMI)" points="961,351.2 981,344.4 982.3,361.9 960,363.3" fill="#7dcdc5"/>
<polygon clip-path="url(#cMI)" points="1006.6,318 1021,325.6 1018.7,328.3 1006.6,325.6" fill="#7dcdc5"/>
<polygon clip-path="url(#cMI)" points="1003.2,329 1011.3,329 1011.3,337 1003.2,337" fill="#07458a"/>
<polygon clip-path="url(#cMI)" points="1015.3,337 1026,337 1026,347.1 1015.3,347.1" fill="#07458a"/>
<polygon clip-path="url(#cMI)" points="957,378.1 967.5,378.1 968.9,391.6 985,394.3 986.4,406.4 982.3,411.8 982.3,419.9 969,419.9 966,399.7 959,391.6" fill="#07458a"/>
<polygon clip-path="url(#cMI)" points="981.6,386.2 1022.7,380.8 1022.7,387.5 1006.6,392.9 982.3,394.3" fill="#07458a"/>
<polygon clip-path="url(#cMI)" points="991.8,419.9 1017.3,418.5 1017.3,426.6 993.1,427.9" fill="#07458a"/>
<polygon clip-path="url(#cMI)" points="1031.5,384.8 1040.2,384.8 1041.6,397 1031.5,397.6" fill="#7dcdc5"/>
<polygon clip-path="url(#cMI)" points="1016.7,405.1 1026.8,405.1 1027.4,414.5 1016.7,414.5" fill="#7dcdc5"/>
<polygon clip-path="url(#cKY)" points="997.1,561 1002.9,537 1016,524 1026.3,525.5 1035,536.3 1032.1,546.5 1023.3,543.5 1019,553.8 1026.3,559.6 1035,568.3 1030.6,572.7 1019,571.3 1016,565.4 1005.8,561" fill="#07458a"/>
<polygon clip-path="url(#cKY)" points="1046.7,534 1061.3,530.6 1072,540.6 1072,550.8 1059.8,553.8 1055.4,558.1 1046.7,556.7 1040.8,547.9" fill="#07458a"/>
<polygon clip-path="url(#cKY)" points="1070,559.6 1077.3,553 1089,566.9 1075.8,582 1068.5,578.5 1072.9,571.3" fill="#07458a"/>
<polygon clip-path="url(#cKY)" points="976.7,578.5 997.1,580 1002.9,588.8 997.1,597.5 1002.9,603.3 988.3,606.5 982.5,591.7" fill="#07458a"/>
<polygon clip-path="url(#cKY)" points="1019,582.9 1032.1,582.9 1033.5,593.1 1024.8,603 1017.5,597.5" fill="#07458a"/>
<polygon clip-path="url(#cKY)" points="935.8,591.7 946,591.7 949,606.3 937.3,604.8" fill="#07458a"/>
<polygon clip-path="url(#cKY)" points="912,596 921.3,597.5 919.8,608 906,610" fill="#07458a"/>
<polygon clip-path="url(#cKY)" points="953.3,569 960.6,570 960.6,581.5 954.8,582.9" fill="#07458a"/>
<polygon clip-path="url(#cKY)" points="966.5,566 973.8,567 972.3,574.2 966.5,574.2" fill="#07458a"/>
<polygon clip-path="url(#cKY)" points="978,561 988,562 982.5,571.3" fill="#07458a"/>
<polygon clip-path="url(#cKY)" points="944.6,578.5 956.3,582.9 953.3,593.1 946,591.7" fill="#7dcdc5"/>
<polygon clip-path="url(#cKY)" points="963.5,580 973.8,577.1 975.2,587.3 966.5,588.8" fill="#7dcdc5"/>
<polygon clip-path="url(#cKY)" points="985.4,569.8 995.6,568.3 995.6,577.1 986.9,578.5" fill="#7dcdc5"/>
<polygon clip-path="url(#cKY)" points="1021.9,568.3 1032.1,574.2 1035,580 1026.3,578.5" fill="#7dcdc5"/>
<polygon clip-path="url(#cKY)" points="1037.9,561 1054,559.6 1070,571.3 1067.1,580 1054,578.5 1040.8,571.3" fill="#7dcdc5"/>
<polygon clip-path="url(#cKY)" points="1055.4,591.7 1070,588.8 1068.5,596 1054,600" fill="#ccebc6"/>
<polygon clip-path="url(#cKY)" points="1040.8,588.8 1051,588.8 1051,596 1040.8,597.5" fill="#7dcdc5"/>
<polygon clip-path="url(#cKY)" points="998.5,591.7 1008.8,594.6 1011.7,603.3 1000,600.4" fill="#7dcdc5"/>
<polygon clip-path="url(#cKY)" points="1049.6,543.5 1055.4,543.5 1055.4,552.3 1049.6,552.3" fill="#f4faef"/>
<polygon clip-path="url(#cTN)" points="998.5,610.6 1007.3,610.6 1007.3,619.4 998.5,619.4" fill="#7dcdc5"/>
<polygon clip-path="url(#cTN)" points="1017.5,607.7 1026.3,607.7 1024.8,616.5 1017.5,617.9" fill="#7dcdc5"/>
<polygon clip-path="url(#cTN)" points="1046.7,607.7 1054,607.7 1054,615 1046.7,615" fill="#7dcdc5"/>
<polygon clip-path="url(#cAL)" points="992,663.7 1008.2,659 1014.2,679.8 1006.2,687.9 998.1,683.9 994,671.7" fill="#2f8dc1"/>
<polygon clip-path="url(#cAL)" points="945,685.9 969.8,683.9 961.7,696 973.9,716.2 965.8,736.4 973.9,756.5 965.8,764.6 953.7,760.6 955.7,736.4 951.6,716.2 945,696" fill="#2f8dc1"/>
<polygon clip-path="url(#cAL)" points="973.9,716.2 990,708.1 998.1,724.3 1010.2,736.4 1026.4,734.4 1036,752.5 1026.4,762.6 1006.2,756.5 994,748.5 981.9,752.5 973.9,756.5 965.8,736.4" fill="#2f8dc1"/>
<polygon clip-path="url(#cAL)" points="994,683.9 1006.2,687.9 1002.1,700 994,696" fill="#2f8dc1"/>
<polygon clip-path="url(#cAL)" points="1014.2,708.1 1024.3,708.1 1026.4,720.2 1016.3,724.3" fill="#2f8dc1"/>
<polygon clip-path="url(#cAL)" points="948.6,726.3 957.7,726.3 957.7,740.4 949.6,740.4" fill="#7dcdc5"/>
<polygon clip-path="url(#cAL)" points="984,734.4 996,734.4 996,744.5 984,744.5" fill="#7dcdc5"/>
<polygon clip-path="url(#cAL)" points="1008.2,736.4 1022.3,736.4 1022.3,746.5 1008.2,746.5" fill="#7dcdc5"/>
<polygon clip-path="url(#cAL)" points="943,752.5 952.7,752.5 952.7,768.7 943,768.7" fill="#7dcdc5"/>
<polygon clip-path="url(#cAL)" points="955.7,782.8 967.8,784.8 967.8,799 975,807 972.8,816 961.7,814 959.7,797" fill="#2f8dc1"/>
<polygon clip-path="url(#cTN)" points="905.2,641.4 918.3,641.4 918.3,653.6 905.2,653.6" fill="#2f8dc1"/>
<polygon clip-path="url(#cTN)" points="945.6,649.5 957.7,649.5 957.7,663 945.6,663" fill="#2f8dc1"/>
<polygon clip-path="url(#cTN)" points="1000.1,641.4 1012.2,641.4 1012.2,653.6 1000.1,653.6" fill="#2f8dc1"/>
<polygon clip-path="url(#cNC)" points="1078.9,621.3 1095,623.3 1095,641.4 1074.8,645.5 1072.8,635.4" fill="#2f8dc1"/>
<polygon clip-path="url(#cNC)" points="1058.7,641.4 1070.8,641.4 1070.8,651.5 1056.6,651.5" fill="#7dcdc5"/>
<polygon clip-path="url(#cFL)" points="1012,788 1026,788 1028,804 1018,808 1014,800" fill="#07458a"/>
<polygon clip-path="url(#cFL)" points="1034,790 1062,790 1066,810 1050,818 1040,826 1034,812" fill="#07458a"/>
<polygon clip-path="url(#cFL)" points="1074,790 1094,790 1104,800 1108,820 1116,832 1112,840 1100,832 1088,818 1076,812" fill="#07458a"/>
<polygon clip-path="url(#cFL)" points="1112,790 1124,794 1140,806 1140,820 1128,818 1120,808" fill="#07458a"/>
<polygon clip-path="url(#cFL)" points="1134,858 1148,860 1160,880 1170,892 1174,916 1166,918 1156,908 1144,904 1138,892 1134,874" fill="#07458a"/>
<polygon clip-path="url(#cFL)" points="1126,840 1132,840 1132,850 1126,850" fill="#07458a"/>
<polygon clip-path="url(#cFL)" points="1164,838 1172,844 1174,856 1182,870 1176,874 1168,864" fill="#07458a"/>
<polygon clip-path="url(#cFL)" points="1128,892 1136,898 1134,904 1126,896" fill="#7dcdc5"/>
<polygon clip-path="url(#cFL)" points="992,790.9 1002.1,790.9 1002.1,808 992,808" fill="#07458a"/>
<polygon clip-path="url(#cVA)" points="1156.1,515.4 1172.6,493 1184.5,492 1196.3,501 1201,519 1193.9,531.9 1184.5,541.4 1172.6,539 1165.6,534.3 1156.1,536.7 1147,531.9" fill="#2f8dc1"/>
<polygon clip-path="url(#cVA)" points="1172.6,509.5 1180.9,507.2 1183.3,515.4 1175,515.4" fill="#07458a"/>
<polygon clip-path="url(#cVA)" points="1171.5,521.3 1179.7,520.1 1186.8,524.9 1177.4,527.2" fill="#07458a"/>
<polygon clip-path="url(#cVA)" points="1162,541.4 1169.1,540.2 1171.5,546.1 1164.4,548.5" fill="#7dcdc5"/>
<polygon clip-path="url(#cVA)" points="1195.1,549.7 1203.3,548.5 1205.7,553.2 1197.4,555.6" fill="#7dcdc5"/>
<polygon clip-path="url(#cVA)" points="1159.7,561.5 1167.9,560.3 1172.6,569.7 1177.4,573.3 1175,580.4 1167.9,583 1165.6,573.3" fill="#7dcdc5"/>
<polygon clip-path="url(#cVA)" points="1146.7,555.6 1158.5,553.2 1160.8,562.6 1153.8,569.7 1145.5,567.4" fill="#2f8dc1"/>
<polygon clip-path="url(#cVA)" points="1186.8,555.6 1203.3,555.6 1208.1,562.6 1196.3,565 1188,562.6" fill="#2f8dc1"/>
<polygon clip-path="url(#cVA)" points="1111.3,578 1121.9,576.8 1124.2,583.9 1113.6,585.1" fill="#7dcdc5"/>
<polygon clip-path="url(#cVA)" points="1097.1,576.8 1110.1,574.5 1111.3,583.9 1099.4,586.3" fill="#2f8dc1"/>
<polygon clip-path="url(#cVA)" points="1130.1,569.7 1141.9,567.4 1144.3,574.5 1132.5,578" fill="#2f8dc1"/>
<polygon clip-path="url(#cVA)" points="1073.9,584.2 1088.5,577 1096,577 1098,587 1083.6,589.1" fill="#2f8dc1"/>
<polygon clip-path="url(#cVA)" points="1059.4,586.6 1071.5,586.6 1071.5,596.3 1059.4,596.3" fill="#ccebc6"/>
<polygon clip-path="url(#cVA)" points="1233.9,560 1246,562.4 1246,571 1231.5,568.5" fill="#2f8dc1"/>
<polygon clip-path="url(#cNC)" points="1139.4,606 1149.1,606 1151.5,625.4 1141.8,625.4" fill="#2f8dc1"/>
<polygon clip-path="url(#cNC)" points="1175.7,586.6 1185.4,586.6 1183,610.9 1175.7,610.9" fill="#2f8dc1"/>
<polygon clip-path="url(#cNC)" points="1175.7,630.3 1190.3,625.4 1204.8,649.7 1200,663 1185.4,654.5 1178.2,644.8" fill="#2f8dc1"/>
<polygon clip-path="url(#cNC)" points="1175.7,615.7 1187.8,618.2 1185.4,627.9 1174.5,625.4" fill="#7dcdc5"/>
<polygon clip-path="url(#cNC)" points="1214.5,625.4 1226.6,627.9 1221.8,637.5 1214.5,635.1" fill="#2f8dc1"/>
<polygon clip-path="url(#cNC)" points="1120,627.9 1141.8,630.3 1146.6,640 1124.8,637.5" fill="#2f8dc1"/>
<polygon clip-path="url(#cSC)" points="1112.7,683.6 1124.8,678.7 1129.7,690.9 1120,698.1" fill="#2f8dc1"/>
<polygon clip-path="url(#cSC)" points="1132.1,669 1144.2,671.5 1146.6,681.2 1136.9,681.2" fill="#2f8dc1"/>
<polygon clip-path="url(#cNY)" points="1199,321 1220.8,297 1225,299 1227.1,323.75 1216.7,321.7" fill="#7dcdc5"/>
<polygon clip-path="url(#cNY)" points="1204.2,332.1 1212.5,326.9 1215.6,344.6 1206.25,350.8" fill="#ccebc6"/>
<polygon clip-path="url(#cNY)" points="1206.25,350.8 1215.6,344.6 1220.8,363.3 1216.7,367.5 1208.3,363.3" fill="#7dcdc5"/>
<polygon clip-path="url(#cNY)" points="1231.25,358.1 1245.8,357.1 1241.7,363.3 1233.3,363.3" fill="#f4faef"/>
<polygon clip-path="url(#cNY)" points="1233.3,365.4 1247.9,363.3 1245.8,375.8 1235.4,377.9" fill="#2f8dc1"/>
<polygon clip-path="url(#cNY)" points="1197.9,373.75 1208.3,371.7 1209.4,384.2 1200,384.2" fill="#2f8dc1"/>
<polygon clip-path="url(#cNY)" points="1180.2,371.7 1185.4,369.6 1188.5,390.4 1183.3,392.5" fill="#ccebc6"/>
<polygon clip-path="url(#cNY)" points="1175,380 1181.25,380 1181.25,384.2 1175,384.2" fill="#f4faef"/>
<polygon clip-path="url(#cNY)" points="1166.7,373.75 1177.1,371.7 1177.1,380 1168.75,382.1" fill="#2f8dc1"/>
<polygon clip-path="url(#cNY)" points="1120,412 1134.4,396.7 1136.5,410" fill="#7dcdc5"/>
<polygon clip-path="url(#cNY)" points="1137.5,396.7 1153.1,393.5 1154.2,407 1138.5,410" fill="#f4faef"/>
<polygon clip-path="url(#cNY)" points="1154.6,393.5 1166.7,391.5 1167.7,404 1155.2,407" fill="#ccebc6"/>
<polygon clip-path="url(#cPA)" points="1172.9,405 1189.6,401.5 1191.7,415.4 1175,418.5" fill="#2f8dc1"/>
<polygon clip-path="url(#cPA)" points="1222.9,394 1233.3,403 1241,412 1235.4,434.2 1225,425.8 1227.1,413.3" fill="#2f8dc1"/>
<polygon clip-path="url(#cPA)" points="1195.8,444.6 1208.3,446.7 1216.7,452.9 1229.2,457.1 1222.9,465.4 1210.4,461.25 1200,455" fill="#2f8dc1"/>
<polygon clip-path="url(#cNJ)" points="1258.3,440.4 1270,438.3 1270,452.9 1260.4,465.4 1256.25,457.1" fill="#2f8dc1"/>
<polygon clip-path="url(#cNJ)" points="1250,463.3 1260.4,465.4 1258.3,473.75 1250,471.7" fill="#2f8dc1"/>
<polygon clip-path="url(#cVT)" points="1249,289.4 1268.75,285 1266.7,292.5 1262.5,298.75 1253.1,296.7" fill="#07458a"/>
<polygon clip-path="url(#cVT)" points="1262.5,294.6 1270.8,294.6 1269.8,301.9 1263.5,301.9" fill="#7dcdc5"/>
<polygon clip-path="url(#cMA)" points="1266,361 1291.7,356 1293.75,369.6 1269.8,378" fill="#2f8dc1"/>
<polygon clip-path="url(#cMA)" points="1277,365.4 1291.7,363.3 1292.7,371.7 1279.2,373.75" fill="#07458a"/>
<polygon clip-path="url(#cCT)" points="1295.8,377.9 1306.25,374.8 1308.3,388.3 1300,391.5" fill="#2f8dc1"/>
<polygon clip-path="url(#cME)" points="1317.5,189 1325,195 1337.5,187 1351,191 1353.75,210 1335,217.5 1309,215" fill="#07458a"/>
<polygon clip-path="url(#cME)" points="1337.5,217.5 1353.75,210 1362,235 1372.5,236 1387,255 1381,268 1367.5,260 1360,252.5 1350,270 1338.75,267.5 1342.5,245 1337.5,242.5" fill="#07458a"/>
<polygon clip-path="url(#cME)" points="1355,252.5 1367.5,260 1365,281 1355,284 1352.5,270" fill="#2f8dc1"/>
<polygon clip-path="url(#cME)" points="1312.5,315 1320,310 1325,322.5 1320,334" fill="#07458a"/>
<polygon clip-path="url(#cTX)" points="497.5,799 515,790.5 532.5,805 521,812" fill="#7dcdc5"/>
<polygon clip-path="url(#cTX)" points="522.5,813 532.5,805 560,830 545,850 537.5,860 520,845" fill="#2f8dc1"/>
<polygon clip-path="url(#cTX)" points="595,765 608.75,765 608.75,780 596.25,780" fill="#2f8dc1"/>
<polygon clip-path="url(#cTX)" points="635,822.5 650,817.5 680,817.5 672.5,835 660,840 640,835" fill="#2f8dc1"/>
<polygon clip-path="url(#cTX)" points="685,750 697.5,750 700,762.5 715,762.5 717.5,772.5 700,782.5 687.5,770" fill="#2f8dc1"/>
<polygon clip-path="url(#cTX)" points="762.5,800 777.5,797.5 780,815 767.5,817.5" fill="#2f8dc1"/>
<polygon clip-path="url(#cTX)" points="785,782.5 806,795 802,822.5 790,825 792.5,800" fill="#2f8dc1"/>
<polygon clip-path="url(#cTX)" points="777.5,760 792,760 792,770 777.5,770" fill="#7dcdc5"/>
<polygon clip-path="url(#cTX)" points="661.25,877.5 671.25,877.5 671.25,893.75 661.25,893.75" fill="#e2e2e2"/>
<polygon clip-path="url(#cTX)" points="527.5,761.25 540,762.5 537.5,772.5 530,770" fill="#e2e2e2"/>
<polygon clip-path="url(#cTX)" points="737.5,742.5 757.5,742.5 757.5,757.5 737.5,760" fill="#2f8dc1"/>
<polygon clip-path="url(#cTX)" points="635,720 645,720 647.5,735 635,735" fill="#2f8dc1"/>
<polygon clip-path="url(#cTX)" points="687.5,720 700,710 702.5,730 692.5,750 685,745" fill="#2f8dc1"/>
<polygon clip-path="url(#cTX)" points="655,737.5 667.5,737.5 667.5,752.5 655,752.5" fill="#2f8dc1"/>
<polygon clip-path="url(#cNC)" points="1147,620 1156.1,620 1157.6,630.7 1148.5,630.7" fill="#2f8dc1"/>
<polygon clip-path="url(#cTN)" points="992,629.7 998.1,629.7 998.1,637.4 992,637.4" fill="#2f8dc1"/>
<g clip-path="url(#cOK)" stroke="#6f86b8" stroke-width="0.5"><polygon points="636.8,608 651.6,608.4 651.2,623.1 636.4,622.8" fill="#2f8dc1"/><polygon points="651.6,608.4 666.3,608.7 666,623.5 651.2,623.1" fill="#07458a"/><polygon points="666.3,608.7 681.1,609.1 680.7,623.8 666,623.5" fill="#7dcdc5"/><polygon points="681.1,609.1 695.8,609.4 695.5,624.2 680.7,623.8" fill="#2f8dc1"/><polygon points="695.8,609.4 710.6,609.8 710.2,624.6 695.5,624.2" fill="#07458a"/><polygon points="710.6,609.8 725.4,610.2 725,624.9 710.2,624.6" fill="#7dcdc5"/><polygon points="725.4,610.2 740.1,610.5 739.8,625.3 725,624.9" fill="#7dcdc5"/><polygon points="740.1,610.5 754.9,610.9 754.5,625.6 739.8,625.3" fill="#07458a"/><polygon points="754.9,610.9 769.6,611.2 769.3,626 754.5,625.6" fill="#ccebc6"/><polygon points="769.6,611.2 784.4,611.6 784,626.4 769.3,626" fill="#2f8dc1"/><polygon points="636.4,622.8 651.2,623.1 650.8,637.9 636.1,637.5" fill="#2f8dc1"/><polygon points="651.2,623.1 666,623.5 665.6,638.2 650.8,637.9" fill="#07458a"/><polygon points="666,623.5 680.7,623.8 680.4,638.6 665.6,638.2" fill="#07458a"/><polygon points="680.7,623.8 695.5,624.2 695.1,639 680.4,638.6" fill="#07458a"/><polygon points="695.5,624.2 710.2,624.6 709.9,639.3 695.1,639" fill="#2f8dc1"/><polygon points="710.2,624.6 725,624.9 724.6,639.7 709.9,639.3" fill="#7dcdc5"/><polygon points="725,624.9 739.8,625.3 739.4,640 724.6,639.7" fill="#7dcdc5"/><polygon points="739.8,625.3 754.5,625.6 754.2,640.4 739.4,640" fill="#07458a"/><polygon points="754.5,625.6 769.3,626 768.9,640.8 754.2,640.4" fill="#2f8dc1"/><polygon points="769.3,626 784,626.4 783.7,641.1 768.9,640.8" fill="#2f8dc1"/><polygon points="636.1,637.5 650.8,637.9 650.5,652.6 635.7,652.3" fill="#07458a"/><polygon points="650.8,637.9 665.6,638.2 665.2,653 650.5,652.6" fill="#f4faef"/><polygon points="665.6,638.2 680.4,638.6 680,653.4 665.2,653" fill="#7dcdc5"/><polygon points="680.4,638.6 695.1,639 694.8,653.7 680,653.4" fill="#2f8dc1"/><polygon points="695.1,639 709.9,639.3 709.5,654.1 694.8,653.7" fill="#2f8dc1"/><polygon points="709.9,639.3 724.6,639.7 724.3,654.4 709.5,654.1" fill="#07458a"/><polygon points="724.6,639.7 739.4,640 739,654.8 724.3,654.4" fill="#2f8dc1"/><polygon points="739.4,640 754.2,640.4 753.8,655.2 739,654.8" fill="#7dcdc5"/><polygon points="754.2,640.4 768.9,640.8 768.6,655.5 753.8,655.2" fill="#07458a"/><polygon points="768.9,640.8 783.7,641.1 783.3,655.9 768.6,655.5" fill="#07458a"/><polygon points="635.7,652.3 650.5,652.6 650.1,667.4 635.4,667" fill="#07458a"/><polygon points="650.5,652.6 665.2,653 664.9,667.8 650.1,667.4" fill="#07458a"/><polygon points="665.2,653 680,653.4 679.6,668.1 664.9,667.8" fill="#2f8dc1"/><polygon points="680,653.4 694.8,653.7 694.4,668.5 679.6,668.1" fill="#07458a"/><polygon points="694.8,653.7 709.5,654.1 709.2,668.8 694.4,668.5" fill="#2f8dc1"/><polygon points="709.5,654.1 724.3,654.4 723.9,669.2 709.2,668.8" fill="#7dcdc5"/><polygon points="724.3,654.4 739,654.8 738.7,669.6 723.9,669.2" fill="#ccebc6"/><polygon points="739,654.8 753.8,655.2 753.4,669.9 738.7,669.6" fill="#07458a"/><polygon points="753.8,655.2 768.6,655.5 768.2,670.3 753.4,669.9" fill="#2f8dc1"/><polygon points="768.6,655.5 783.3,655.9 783,670.6 768.2,670.3" fill="#2f8dc1"/><polygon points="635.4,667 650.1,667.4 649.8,682.2 635,681.8" fill="#7dcdc5"/><polygon points="650.1,667.4 664.9,667.8 664.5,682.5 649.8,682.2" fill="#2f8dc1"/><polygon points="664.9,667.8 679.6,668.1 679.3,682.9 664.5,682.5" fill="#2f8dc1"/><polygon points="679.6,668.1 694.4,668.5 694,683.2 679.3,682.9" fill="#2f8dc1"/><polygon points="694.4,668.5 709.2,668.8 708.8,683.6 694,683.2" fill="#07458a"/><polygon points="709.2,668.8 723.9,669.2 723.6,684 708.8,683.6" fill="#07458a"/><polygon points="723.9,669.2 738.7,669.6 738.3,684.3 723.6,684" fill="#07458a"/><polygon points="738.7,669.6 753.4,669.9 753.1,684.7 738.3,684.3" fill="#2f8dc1"/><polygon points="753.4,669.9 768.2,670.3 767.8,685 753.1,684.7" fill="#f4faef"/><polygon points="768.2,670.3 783,670.6 782.6,685.4 767.8,685" fill="#07458a"/><polygon points="635,681.8 649.8,682.2 649.4,696.9 634.6,696.6" fill="#07458a"/><polygon points="649.8,682.2 664.5,682.5 664.2,697.3 649.4,696.9" fill="#2f8dc1"/><polygon points="664.5,682.5 679.3,682.9 678.9,697.6 664.2,697.3" fill="#2f8dc1"/><polygon points="679.3,682.9 694,683.2 693.7,698 678.9,697.6" fill="#07458a"/><polygon points="694,683.2 708.8,683.6 708.4,698.4 693.7,698" fill="#2f8dc1"/><polygon points="708.8,683.6 723.6,684 723.2,698.7 708.4,698.4" fill="#7dcdc5"/><polygon points="723.6,684 738.3,684.3 738,699.1 723.2,698.7" fill="#7dcdc5"/><polygon points="738.3,684.3 753.1,684.7 752.7,699.4 738,699.1" fill="#07458a"/><polygon points="753.1,684.7 767.8,685 767.5,699.8 752.7,699.4" fill="#07458a"/><polygon points="767.8,685 782.6,685.4 782.2,700.2 767.5,699.8" fill="#2f8dc1"/><polygon points="634.6,696.6 649.4,696.9 649,711.7 634.3,711.3" fill="#2f8dc1"/><polygon points="649.4,696.9 664.2,697.3 663.8,712 649,711.7" fill="#2f8dc1"/><polygon points="664.2,697.3 678.9,697.6 678.6,712.4 663.8,712" fill="#2f8dc1"/><polygon points="678.9,697.6 693.7,698 693.3,712.8 678.6,712.4" fill="#2f8dc1"/><polygon points="693.7,698 708.4,698.4 708.1,713.1 693.3,712.8" fill="#07458a"/><polygon points="708.4,698.4 723.2,698.7 722.8,713.5 708.1,713.1" fill="#07458a"/><polygon points="723.2,698.7 738,699.1 737.6,713.8 722.8,713.5" fill="#07458a"/><polygon points="738,699.1 752.7,699.4 752.4,714.2 737.6,713.8" fill="#07458a"/><polygon points="752.7,699.4 767.5,699.8 767.1,714.6 752.4,714.2" fill="#07458a"/><polygon points="767.5,699.8 782.2,700.2 781.9,714.9 767.1,714.6" fill="#2f8dc1"/><polygon points="693.3,712.8 708.1,713.1 707.7,727.9 693,727.5" fill="#2f8dc1"/><polygon points="708.1,713.1 722.8,713.5 722.5,728.2 707.7,727.9" fill="#2f8dc1"/><polygon points="722.8,713.5 737.6,713.8 737.2,728.6 722.5,728.2" fill="#2f8dc1"/><polygon points="737.6,713.8 752.4,714.2 752,729 737.2,728.6" fill="#07458a"/><polygon points="752.4,714.2 767.1,714.6 766.8,729.3 752,729" fill="#07458a"/><polygon points="767.1,714.6 781.9,714.9 781.5,729.7 766.8,729.3" fill="#2f8dc1"/></g>
<g clip-path="url(#cTX)" stroke="#6f86b8" stroke-width="0.3"><polygon points="560.4,619.3 575.7,620.2 574.6,634.1 559.3,633.2" fill="#2f8dc1"/><polygon points="575.7,620.2 591,621.1 589.8,635 574.6,634.1" fill="#2f8dc1"/><polygon points="606.2,621.9 621.5,622.8 620.4,636.7 605.1,635.8" fill="#2f8dc1"/><polygon points="621.5,622.8 636.8,623.7 635.7,637.6 620.4,636.7" fill="#2f8dc1"/><polygon points="559.3,633.2 574.6,634.1 573.4,648 558.2,647.1" fill="#2f8dc1"/><polygon points="588.7,648.9 604,649.7 602.9,663.6 587.6,662.8" fill="#2f8dc1"/><polygon points="619.3,650.6 634.6,651.5 633.4,665.4 618.2,664.5" fill="#2f8dc1"/><polygon points="587.6,662.8 602.9,663.6 601.8,677.5 586.5,676.7" fill="#2f8dc1"/><polygon points="618.2,664.5 633.4,665.4 632.3,679.3 617,678.4" fill="#7dcdc5"/><polygon points="555.9,674.9 571.2,675.8 570.1,689.7 554.8,688.8" fill="#2f8dc1"/><polygon points="617,678.4 632.3,679.3 631.2,693.2 615.9,692.3" fill="#2f8dc1"/><polygon points="553.7,702.7 569,703.6 567.8,717.5 552.6,716.6" fill="#2f8dc1"/><polygon points="584.2,704.5 599.5,705.3 598.4,719.2 583.1,718.4" fill="#2f8dc1"/><polygon points="630.1,707.1 645.4,708 644.2,721.9 629,721" fill="#7dcdc5"/><polygon points="629,721 644.2,721.9 643.1,735.8 627.8,734.9" fill="#f4faef"/><polygon points="644.2,721.9 659.5,722.8 658.4,736.7 643.1,735.8" fill="#2f8dc1"/><polygon points="551.4,730.5 566.7,731.4 565.6,745.3 550.3,744.4" fill="#ccebc6"/><polygon points="566.7,731.4 582,732.3 580.9,746.2 565.6,745.3" fill="#2f8dc1"/></g>
<g clip-path="url(#cKS)" stroke="#6f86b8" stroke-width="0.5"><polygon points="592.4,509 606.3,509.4 605.4,523.1 591.4,522.7" fill="#2f8dc1"/><polygon points="606.3,509.4 620.3,509.8 619.3,523.5 605.4,523.1" fill="#7dcdc5"/><polygon points="620.3,509.8 634.2,510.1 633.2,523.8 619.3,523.5" fill="#07458a"/><polygon points="634.2,510.1 648.1,510.5 647.2,524.2 633.2,523.8" fill="#2f8dc1"/><polygon points="648.1,510.5 662,510.9 661.1,524.6 647.2,524.2" fill="#07458a"/><polygon points="662,510.9 676,511.3 675,525 661.1,524.6" fill="#07458a"/><polygon points="676,511.3 689.9,511.6 689,525.3 675,525" fill="#07458a"/><polygon points="689.9,511.6 703.8,512 702.9,525.7 689,525.3" fill="#ccebc6"/><polygon points="703.8,512 717.8,512.4 716.8,526.1 702.9,525.7" fill="#07458a"/><polygon points="717.8,512.4 731.7,512.8 730.7,526.5 716.8,526.1" fill="#07458a"/><polygon points="731.7,512.8 745.6,513.1 744.7,526.8 730.8,526.5" fill="#07458a"/><polygon points="745.6,513.1 759.6,513.5 758.6,527.2 744.7,526.8" fill="#07458a"/><polygon points="759.6,513.5 773.5,513.9 772.5,527.6 758.6,527.2" fill="#07458a"/><polygon points="591.4,522.7 605.4,523.1 604.4,536.8 590.5,536.4" fill="#07458a"/><polygon points="605.4,523.1 619.3,523.5 618.4,537.2 604.4,536.8" fill="#07458a"/><polygon points="619.3,523.5 633.2,523.8 632.3,537.5 618.4,537.2" fill="#2f8dc1"/><polygon points="633.2,523.8 647.2,524.2 646.2,537.9 632.3,537.5" fill="#07458a"/><polygon points="647.2,524.2 661.1,524.6 660.1,538.3 646.2,537.9" fill="#07458a"/><polygon points="661.1,524.6 675,525 674.1,538.7 660.1,538.3" fill="#2f8dc1"/><polygon points="675,525 689,525.3 688,539 674.1,538.7" fill="#07458a"/><polygon points="689,525.3 702.9,525.7 701.9,539.4 688,539" fill="#07458a"/><polygon points="702.9,525.7 716.8,526.1 715.9,539.8 701.9,539.4" fill="#07458a"/><polygon points="716.8,526.1 730.7,526.5 729.8,540.2 715.9,539.8" fill="#07458a"/><polygon points="730.8,526.5 744.7,526.8 743.7,540.5 729.8,540.2" fill="#07458a"/><polygon points="744.7,526.8 758.6,527.2 757.7,540.9 743.7,540.5" fill="#7dcdc5"/><polygon points="758.6,527.2 772.5,527.6 771.6,541.3 757.7,540.9" fill="#07458a"/><polygon points="590.5,536.4 604.4,536.8 603.5,550.5 589.5,550.1" fill="#2f8dc1"/><polygon points="604.4,536.8 618.4,537.2 617.4,550.9 603.5,550.5" fill="#2f8dc1"/><polygon points="618.4,537.2 632.3,537.5 631.3,551.2 617.4,550.9" fill="#7dcdc5"/><polygon points="632.3,537.5 646.2,537.9 645.3,551.6 631.3,551.2" fill="#2f8dc1"/><polygon points="646.2,537.9 660.1,538.3 659.2,552 645.3,551.6" fill="#07458a"/><polygon points="660.1,538.3 674.1,538.7 673.1,552.4 659.2,552" fill="#ccebc6"/><polygon points="674.1,538.7 688,539 687.1,552.7 673.1,552.4" fill="#7dcdc5"/><polygon points="688,539 701.9,539.4 701,553.1 687.1,552.7" fill="#2f8dc1"/><polygon points="701.9,539.4 715.9,539.8 714.9,553.5 701,553.1" fill="#07458a"/><polygon points="715.9,539.8 729.8,540.2 728.8,553.9 714.9,553.5" fill="#2f8dc1"/><polygon points="729.8,540.2 743.7,540.5 742.8,554.2 728.9,553.9" fill="#2f8dc1"/><polygon points="743.7,540.5 757.7,540.9 756.7,554.6 742.8,554.2" fill="#07458a"/><polygon points="757.7,540.9 771.6,541.3 770.6,555 756.7,554.6" fill="#07458a"/></g>
<g clip-path="url(#cKS)" stroke="#6f86b8" stroke-width="0.5"><polygon points="589.5,550.3 601.9,550.6 600.9,564.3 588.5,564" fill="#07458a"/><polygon points="601.9,550.6 614.3,551 613.3,564.7 600.9,564.3" fill="#07458a"/><polygon points="614.3,551 626.7,551.3 625.7,565 613.3,564.7" fill="#07458a"/><polygon points="626.7,551.3 639.1,551.6 638.1,565.3 625.8,565" fill="#07458a"/><polygon points="639.1,551.6 651.5,552 650.5,565.7 638.1,565.3" fill="#07458a"/><polygon points="651.5,551.9 663.9,552.3 662.9,566 650.5,565.6" fill="#7dcdc5"/><polygon points="663.9,552.3 676.3,552.6 675.3,566.3 662.9,566" fill="#07458a"/><polygon points="676.3,552.6 688.7,552.9 687.7,566.6 675.3,566.3" fill="#2f8dc1"/><polygon points="688.7,552.9 701.1,553.3 700.1,567 687.8,566.6" fill="#07458a"/><polygon points="701.1,553.3 713.5,553.6 712.5,567.3 700.1,567" fill="#7dcdc5"/><polygon points="713.5,553.6 725.9,553.9 724.9,567.6 712.5,567.3" fill="#07458a"/><polygon points="725.9,553.9 738.3,554.3 737.3,568 724.9,567.6" fill="#2f8dc1"/><polygon points="738.3,554.3 750.7,554.6 749.7,568.3 737.3,568" fill="#ccebc6"/><polygon points="750.7,554.6 763.1,554.9 762.1,568.6 749.8,568.3" fill="#07458a"/><polygon points="763.1,554.9 775.5,555.2 774.5,569 762.1,568.6" fill="#2f8dc1"/><polygon points="775.5,555.2 787.9,555.6 786.9,569.3 774.5,569" fill="#2f8dc1"/><polygon points="588.5,564 600.9,564.3 600,578 587.6,577.7" fill="#2f8dc1"/><polygon points="600.9,564.3 613.3,564.7 612.4,578.4 600,578" fill="#07458a"/><polygon points="613.3,564.7 625.7,565 624.8,578.7 612.4,578.4" fill="#07458a"/><polygon points="625.8,565 638.1,565.3 637.2,579 624.8,578.7" fill="#07458a"/><polygon points="638.1,565.3 650.5,565.7 649.6,579.4 637.2,579" fill="#07458a"/><polygon points="650.5,565.6 662.9,566 662,579.7 649.6,579.4" fill="#ccebc6"/><polygon points="662.9,566 675.3,566.3 674.4,580 662,579.7" fill="#2f8dc1"/><polygon points="675.3,566.3 687.7,566.6 686.8,580.3 674.4,580" fill="#07458a"/><polygon points="687.8,566.6 700.1,567 699.2,580.7 686.8,580.3" fill="#07458a"/><polygon points="700.1,567 712.5,567.3 711.6,581 699.2,580.7" fill="#7dcdc5"/><polygon points="712.5,567.3 724.9,567.6 724,581.3 711.6,581" fill="#7dcdc5"/><polygon points="724.9,567.6 737.3,568 736.4,581.7 724,581.3" fill="#7dcdc5"/><polygon points="737.3,568 749.7,568.3 748.8,582 736.4,581.7" fill="#7dcdc5"/><polygon points="749.8,568.3 762.1,568.6 761.2,582.3 748.8,582" fill="#2f8dc1"/><polygon points="762.1,568.6 774.5,569 773.6,582.7 761.2,582.3" fill="#f4faef"/><polygon points="774.5,569 786.9,569.3 786,583 773.6,582.7" fill="#2f8dc1"/><polygon points="587.6,577.7 600,578 599,591.7 586.6,591.4" fill="#ccebc6"/><polygon points="600,578 612.4,578.4 611.4,592.1 599,591.7" fill="#07458a"/><polygon points="612.4,578.4 624.8,578.7 623.8,592.4 611.4,592.1" fill="#ccebc6"/><polygon points="624.8,578.7 637.2,579 636.2,592.7 623.9,592.4" fill="#2f8dc1"/><polygon points="637.2,579 649.6,579.4 648.6,593.1 636.2,592.7" fill="#2f8dc1"/><polygon points="649.6,579.3 662,579.7 661,593.4 648.6,593" fill="#7dcdc5"/><polygon points="662,579.7 674.4,580 673.4,593.7 661,593.4" fill="#07458a"/><polygon points="674.4,580 686.8,580.3 685.8,594 673.4,593.7" fill="#7dcdc5"/><polygon points="686.8,580.3 699.2,580.7 698.2,594.4 685.9,594" fill="#7dcdc5"/><polygon points="699.2,580.7 711.6,581 710.6,594.7 698.2,594.4" fill="#2f8dc1"/><polygon points="711.6,581 724,581.3 723,595 710.6,594.7" fill="#2f8dc1"/><polygon points="724,581.3 736.4,581.7 735.4,595.4 723,595" fill="#7dcdc5"/><polygon points="736.4,581.7 748.8,582 747.8,595.7 735.4,595.4" fill="#7dcdc5"/><polygon points="748.8,582 761.2,582.3 760.2,596 747.9,595.7" fill="#07458a"/><polygon points="761.2,582.3 773.6,582.6 772.6,596.4 760.2,596" fill="#07458a"/><polygon points="773.6,582.6 786,583 785,596.7 772.6,596.4" fill="#07458a"/><polygon points="586.6,591.4 599,591.7 598.1,605.4 585.7,605.1" fill="#07458a"/><polygon points="599,591.7 611.4,592.1 610.5,605.8 598.1,605.4" fill="#2f8dc1"/><polygon points="611.4,592.1 623.8,592.4 622.9,606.1 610.5,605.8" fill="#07458a"/><polygon points="623.9,592.4 636.2,592.7 635.3,606.4 622.9,606.1" fill="#07458a"/><polygon points="636.2,592.7 648.6,593.1 647.7,606.8 635.3,606.4" fill="#07458a"/><polygon points="648.6,593 661,593.4 660.1,607.1 647.7,606.8" fill="#07458a"/><polygon points="661,593.4 673.4,593.7 672.5,607.4 660.1,607.1" fill="#07458a"/><polygon points="673.4,593.7 685.8,594 684.9,607.7 672.5,607.4" fill="#07458a"/><polygon points="685.9,594 698.2,594.4 697.3,608.1 684.9,607.7" fill="#2f8dc1"/><polygon points="698.2,594.4 710.6,594.7 709.7,608.4 697.3,608.1" fill="#2f8dc1"/><polygon points="710.6,594.7 723,595 722.1,608.7 709.7,608.4" fill="#07458a"/><polygon points="723,595 735.4,595.4 734.5,609.1 722.1,608.7" fill="#ccebc6"/><polygon points="735.4,595.4 747.8,595.7 746.9,609.4 734.5,609.1" fill="#07458a"/><polygon points="747.9,595.7 760.2,596 759.3,609.7 746.9,609.4" fill="#07458a"/><polygon points="760.2,596 772.6,596.4 771.7,610.1 759.3,609.7" fill="#07458a"/><polygon points="772.6,596.4 785,596.7 784.1,610.4 771.7,610.1" fill="#07458a"/><polygon points="585.7,605.1 598.1,605.4 597.1,619.1 584.8,618.8" fill="#07458a"/><polygon points="598.1,605.4 610.5,605.8 609.5,619.5 597.1,619.1" fill="#2f8dc1"/><polygon points="610.5,605.8 622.9,606.1 621.9,619.8 609.5,619.5" fill="#07458a"/><polygon points="622.9,606.1 635.3,606.4 634.4,620.1 622,619.8" fill="#07458a"/><polygon points="635.3,606.4 647.7,606.8 646.8,620.5 634.4,620.1" fill="#07458a"/><polygon points="647.7,606.7 660.1,607.1 659.1,620.8 646.8,620.4" fill="#07458a"/><polygon points="660.1,607.1 672.5,607.4 671.5,621.1 659.1,620.8" fill="#07458a"/><polygon points="672.5,607.4 684.9,607.7 683.9,621.4 671.5,621.1" fill="#07458a"/><polygon points="684.9,607.7 697.3,608.1 696.4,621.8 684,621.4" fill="#2f8dc1"/><polygon points="697.3,608.1 709.7,608.4 708.8,622.1 696.4,621.8" fill="#2f8dc1"/><polygon points="709.7,608.4 722.1,608.7 721.1,622.4 708.8,622.1" fill="#07458a"/><polygon points="722.1,608.7 734.5,609.1 733.5,622.8 721.1,622.4" fill="#ccebc6"/><polygon points="734.5,609.1 746.9,609.4 745.9,623.1 733.5,622.8" fill="#07458a"/><polygon points="746.9,609.4 759.3,609.7 758.4,623.4 746,623.1" fill="#07458a"/><polygon points="759.3,609.7 771.7,610 770.8,623.8 758.4,623.4" fill="#07458a"/><polygon points="771.7,610 784.1,610.4 783.1,624.1 770.8,623.8" fill="#07458a"/></g>
<g clip-path="url(#cSD)" stroke="#6f86b8" stroke-width="0.5"><polygon points="559.2,315.8 573.2,316.2 572.1,330.2 558.1,329.8" fill="#7dcdc5"/><polygon points="573.2,316.2 587.1,316.6 586,330.6 572.1,330.2" fill="#7dcdc5"/><polygon points="587.1,316.6 601.1,317 600,331 586,330.6" fill="#07458a"/><polygon points="601.1,317 615,317.4 613.9,331.4 600,331" fill="#07458a"/><polygon points="615,317.4 629,317.9 627.9,331.8 613.9,331.4" fill="#07458a"/><polygon points="629,317.9 642.9,318.3 641.8,332.2 627.9,331.8" fill="#07458a"/><polygon points="642.9,318.3 656.9,318.7 655.8,332.6 641.8,332.2" fill="#07458a"/><polygon points="656.9,318.7 670.8,319.1 669.7,333 655.8,332.6" fill="#7dcdc5"/><polygon points="670.8,319.1 684.8,319.5 683.7,333.4 669.7,333" fill="#07458a"/><polygon points="684.8,319.5 698.7,319.9 697.6,333.9 683.7,333.4" fill="#2f8dc1"/><polygon points="698.7,319.9 712.7,320.3 711.6,334.3 697.6,333.9" fill="#2f8dc1"/><polygon points="712.7,320.3 726.6,320.7 725.5,334.7 711.6,334.3" fill="#07458a"/><polygon points="558.1,329.8 572.1,330.2 571,344.1 557,343.7" fill="#07458a"/><polygon points="572.1,330.2 586,330.6 584.9,344.5 571,344.1" fill="#07458a"/><polygon points="586,330.6 600,331 598.9,344.9 584.9,344.5" fill="#07458a"/><polygon points="600,331 613.9,331.4 612.8,345.3 598.9,344.9" fill="#07458a"/><polygon points="613.9,331.4 627.9,331.8 626.8,345.8 612.8,345.3" fill="#07458a"/><polygon points="627.9,331.8 641.8,332.2 640.7,346.2 626.8,345.8" fill="#07458a"/><polygon points="641.8,332.2 655.8,332.6 654.7,346.6 640.7,346.2" fill="#07458a"/><polygon points="655.8,332.6 669.7,333 668.6,347 654.7,346.6" fill="#2f8dc1"/><polygon points="669.7,333 683.7,333.4 682.6,347.4 668.6,347" fill="#07458a"/><polygon points="683.7,333.4 697.6,333.9 696.5,347.8 682.6,347.4" fill="#07458a"/><polygon points="697.6,333.9 711.6,334.3 710.5,348.2 696.5,347.8" fill="#07458a"/><polygon points="711.6,334.3 725.5,334.7 724.4,348.6 710.5,348.2" fill="#07458a"/><polygon points="557,343.7 571,344.1 569.9,358.1 555.9,357.6" fill="#07458a"/><polygon points="571,344.1 584.9,344.5 583.8,358.5 569.9,358.1" fill="#7dcdc5"/><polygon points="584.9,344.5 598.9,344.9 597.8,358.9 583.8,358.5" fill="#7dcdc5"/><polygon points="598.9,344.9 612.8,345.3 611.7,359.3 597.8,358.9" fill="#07458a"/><polygon points="612.8,345.3 626.8,345.8 625.7,359.7 611.7,359.3" fill="#07458a"/><polygon points="626.8,345.8 640.7,346.2 639.6,360.1 625.7,359.7" fill="#07458a"/><polygon points="640.7,346.2 654.7,346.6 653.6,360.5 639.6,360.1" fill="#2f8dc1"/><polygon points="654.7,346.6 668.6,347 667.5,360.9 653.6,360.5" fill="#2f8dc1"/><polygon points="668.6,347 682.6,347.4 681.5,361.3 667.5,360.9" fill="#7dcdc5"/><polygon points="682.6,347.4 696.5,347.8 695.4,361.8 681.5,361.3" fill="#ccebc6"/><polygon points="696.5,347.8 710.5,348.2 709.4,362.2 695.4,361.8" fill="#07458a"/><polygon points="710.5,348.2 724.4,348.6 723.3,362.6 709.4,362.2" fill="#07458a"/><polygon points="555.9,357.6 569.9,358.1 568.8,372 554.8,371.6" fill="#2f8dc1"/><polygon points="569.9,358.1 583.8,358.5 582.7,372.4 568.8,372" fill="#7dcdc5"/><polygon points="583.8,358.5 597.8,358.9 596.7,372.8 582.7,372.4" fill="#7dcdc5"/><polygon points="597.8,358.9 611.7,359.3 610.6,373.2 596.7,372.8" fill="#2f8dc1"/><polygon points="611.7,359.3 625.7,359.7 624.6,373.6 610.6,373.2" fill="#07458a"/><polygon points="625.7,359.7 639.6,360.1 638.5,374.1 624.6,373.7" fill="#07458a"/><polygon points="639.6,360.1 653.6,360.5 652.5,374.5 638.5,374.1" fill="#2f8dc1"/><polygon points="653.6,360.5 667.5,360.9 666.4,374.9 652.5,374.5" fill="#07458a"/><polygon points="667.5,360.9 681.5,361.3 680.4,375.3 666.4,374.9" fill="#07458a"/><polygon points="681.5,361.3 695.4,361.8 694.3,375.7 680.4,375.3" fill="#07458a"/><polygon points="695.4,361.8 709.4,362.2 708.3,376.1 694.3,375.7" fill="#07458a"/><polygon points="709.4,362.2 723.3,362.6 722.2,376.5 708.3,376.1" fill="#07458a"/><polygon points="554.8,371.6 568.8,372 567.7,386 553.8,385.6" fill="#07458a"/><polygon points="568.8,372 582.7,372.4 581.7,386.4 567.7,386" fill="#07458a"/><polygon points="582.7,372.4 596.7,372.8 595.6,386.8 581.6,386.4" fill="#07458a"/><polygon points="596.7,372.8 610.6,373.2 609.6,387.2 595.6,386.8" fill="#2f8dc1"/><polygon points="610.6,373.2 624.6,373.7 623.5,387.6 609.5,387.2" fill="#2f8dc1"/><polygon points="624.6,373.7 638.5,374.1 637.5,388 623.5,387.6" fill="#2f8dc1"/><polygon points="638.5,374.1 652.5,374.5 651.4,388.4 637.5,388" fill="#07458a"/><polygon points="652.5,374.5 666.4,374.9 665.4,388.8 651.4,388.4" fill="#f4faef"/><polygon points="666.4,374.9 680.4,375.3 679.3,389.2 665.4,388.8" fill="#2f8dc1"/><polygon points="680.4,375.3 694.3,375.7 693.2,389.7 679.3,389.2" fill="#7dcdc5"/><polygon points="694.3,375.7 708.3,376.1 707.2,390.1 693.2,389.7" fill="#2f8dc1"/><polygon points="708.3,376.1 722.2,376.5 721.2,390.5 707.2,390.1" fill="#07458a"/><polygon points="553.8,385.6 567.7,386 566.6,399.9 552.7,399.5" fill="#2f8dc1"/><polygon points="567.7,386 581.7,386.4 580.6,400.3 566.6,399.9" fill="#07458a"/><polygon points="581.6,386.4 595.6,386.8 594.5,400.7 580.6,400.3" fill="#07458a"/><polygon points="595.6,386.8 609.6,387.2 608.5,401.1 594.5,400.7" fill="#07458a"/><polygon points="609.5,387.2 623.5,387.6 622.4,401.6 608.5,401.1" fill="#07458a"/><polygon points="623.5,387.6 637.5,388 636.4,402 622.4,401.6" fill="#07458a"/><polygon points="637.5,388 651.4,388.4 650.3,402.4 636.4,402" fill="#7dcdc5"/><polygon points="651.4,388.4 665.4,388.8 664.3,402.8 650.3,402.4" fill="#07458a"/><polygon points="665.4,388.8 679.3,389.2 678.2,403.2 664.3,402.8" fill="#07458a"/><polygon points="679.3,389.2 693.2,389.7 692.2,403.6 678.2,403.2" fill="#2f8dc1"/><polygon points="693.2,389.7 707.2,390.1 706.1,404 692.2,403.6" fill="#2f8dc1"/><polygon points="707.2,390.1 721.2,390.5 720.1,404.4 706.1,404" fill="#07458a"/><polygon points="552.7,399.5 566.6,399.9 565.5,413.9 551.6,413.4" fill="#2f8dc1"/><polygon points="566.6,399.9 580.6,400.3 579.5,414.3 565.5,413.9" fill="#07458a"/><polygon points="580.6,400.3 594.5,400.7 593.4,414.7 579.5,414.3" fill="#07458a"/><polygon points="594.5,400.7 608.5,401.1 607.4,415.1 593.4,414.7" fill="#07458a"/><polygon points="608.5,401.1 622.4,401.6 621.3,415.5 607.4,415.1" fill="#07458a"/><polygon points="622.4,401.6 636.4,402 635.3,415.9 621.3,415.5" fill="#07458a"/><polygon points="636.4,402 650.3,402.4 649.2,416.3 635.3,415.9" fill="#7dcdc5"/><polygon points="650.3,402.4 664.3,402.8 663.2,416.7 649.2,416.3" fill="#2f8dc1"/><polygon points="664.3,402.8 678.2,403.2 677.1,417.1 663.2,416.7" fill="#7dcdc5"/><polygon points="678.2,403.2 692.2,403.6 691.1,417.6 677.1,417.1" fill="#2f8dc1"/><polygon points="692.2,403.6 706.1,404 705,418 691.1,417.6" fill="#07458a"/><polygon points="706.1,404 720.1,404.4 719,418.4 705,418" fill="#07458a"/><polygon points="551.6,413.4 565.5,413.9 564.4,427.8 550.5,427.4" fill="#2f8dc1"/><polygon points="565.5,413.9 579.5,414.3 578.4,428.2 564.4,427.8" fill="#07458a"/><polygon points="579.5,414.3 593.4,414.7 592.3,428.6 578.4,428.2" fill="#07458a"/><polygon points="593.4,414.7 607.4,415.1 606.3,429 592.3,428.6" fill="#07458a"/><polygon points="607.4,415.1 621.3,415.5 620.2,429.4 606.3,429" fill="#07458a"/><polygon points="621.3,415.5 635.3,415.9 634.2,429.9 620.2,429.4" fill="#07458a"/><polygon points="635.3,415.9 649.2,416.3 648.1,430.3 634.2,429.9" fill="#7dcdc5"/><polygon points="649.2,416.3 663.2,416.7 662.1,430.7 648.1,430.3" fill="#2f8dc1"/><polygon points="663.2,416.7 677.1,417.1 676,431.1 662.1,430.7" fill="#7dcdc5"/><polygon points="677.1,417.1 691.1,417.6 690,431.5 676,431.1" fill="#2f8dc1"/><polygon points="691.1,417.6 705,418 703.9,431.9 690,431.5" fill="#07458a"/><polygon points="705,418 719,418.4 717.9,432.3 703.9,431.9" fill="#07458a"/></g>
<g clip-path="url(#cIA)" stroke="#6f86b8" stroke-width="0.5"><polygon points="727.8,398.3 739.1,398.2 739.2,408.5 727.9,408.6" fill="#2f8dc1"/><polygon points="739.1,398.2 750.4,398.1 750.5,408.4 739.2,408.5" fill="#07458a"/><polygon points="750.4,398.1 761.7,397.9 761.8,408.3 750.5,408.4" fill="#07458a"/><polygon points="761.7,397.9 773,397.8 773.1,408.1 761.8,408.3" fill="#2f8dc1"/><polygon points="773,397.8 784.3,397.7 784.4,408 773.1,408.1" fill="#7dcdc5"/><polygon points="784.3,397.7 795.6,397.6 795.7,407.9 784.4,408" fill="#07458a"/><polygon points="795.6,397.6 806.9,397.5 807,407.8 795.7,407.9" fill="#07458a"/><polygon points="806.9,397.5 818.2,397.3 818.3,407.7 807,407.8" fill="#2f8dc1"/><polygon points="818.2,397.3 829.5,397.2 829.6,407.6 818.3,407.7" fill="#2f8dc1"/><polygon points="829.5,397.2 840.8,397.1 840.9,407.4 829.6,407.6" fill="#07458a"/><polygon points="840.8,397.1 852.1,397 852.2,407.3 840.9,407.4" fill="#2f8dc1"/><polygon points="852.1,397 863.4,396.9 863.5,407.2 852.2,407.3" fill="#2f8dc1"/><polygon points="727.9,408.6 739.2,408.5 739.3,418.8 728,419" fill="#7dcdc5"/><polygon points="739.2,408.5 750.5,408.4 750.6,418.7 739.3,418.8" fill="#07458a"/><polygon points="750.5,408.4 761.8,408.3 761.9,418.6 750.6,418.7" fill="#07458a"/><polygon points="761.8,408.3 773.1,408.1 773.2,418.5 761.9,418.6" fill="#2f8dc1"/><polygon points="773.1,408.1 784.4,408 784.5,418.4 773.2,418.5" fill="#7dcdc5"/><polygon points="784.4,408 795.7,407.9 795.8,418.2 784.5,418.4" fill="#07458a"/><polygon points="795.7,407.9 807,407.8 807.1,418.1 795.8,418.2" fill="#2f8dc1"/><polygon points="807,407.8 818.3,407.7 818.4,418 807.1,418.1" fill="#7dcdc5"/><polygon points="818.3,407.7 829.6,407.6 829.7,417.9 818.4,418" fill="#2f8dc1"/><polygon points="829.6,407.6 840.9,407.4 841,417.8 829.7,417.9" fill="#2f8dc1"/><polygon points="840.9,407.4 852.2,407.3 852.3,417.6 841,417.8" fill="#2f8dc1"/><polygon points="852.2,407.3 863.5,407.2 863.6,417.5 852.3,417.6" fill="#2f8dc1"/><polygon points="728,419 739.3,418.8 739.5,429.2 728.2,429.3" fill="#07458a"/><polygon points="739.3,418.8 750.6,418.7 750.8,429.1 739.5,429.2" fill="#2f8dc1"/><polygon points="750.6,418.7 761.9,418.6 762.1,428.9 750.8,429.1" fill="#7dcdc5"/><polygon points="761.9,418.6 773.2,418.5 773.4,428.8 762.1,428.9" fill="#f4faef"/><polygon points="773.2,418.5 784.5,418.4 784.7,428.7 773.4,428.8" fill="#ccebc6"/><polygon points="784.5,418.4 795.8,418.2 796,428.6 784.7,428.7" fill="#7dcdc5"/><polygon points="795.8,418.2 807.1,418.1 807.3,428.4 796,428.6" fill="#2f8dc1"/><polygon points="807.1,418.1 818.4,418 818.6,428.3 807.3,428.5" fill="#07458a"/><polygon points="818.4,418 829.7,417.9 829.9,428.2 818.6,428.3" fill="#07458a"/><polygon points="829.7,417.9 841,417.8 841.2,428.1 829.9,428.2" fill="#2f8dc1"/><polygon points="841,417.8 852.3,417.6 852.5,428 841.2,428.1" fill="#07458a"/><polygon points="852.3,417.6 863.6,417.5 863.8,427.9 852.5,428" fill="#2f8dc1"/><polygon points="728.2,429.3 739.5,429.2 739.6,439.5 728.3,439.6" fill="#2f8dc1"/><polygon points="739.5,429.2 750.8,429.1 750.9,439.4 739.6,439.5" fill="#2f8dc1"/><polygon points="750.8,429.1 762.1,428.9 762.2,439.3 750.9,439.4" fill="#07458a"/><polygon points="762.1,428.9 773.4,428.8 773.5,439.1 762.2,439.3" fill="#2f8dc1"/><polygon points="773.4,428.8 784.7,428.7 784.8,439 773.5,439.1" fill="#7dcdc5"/><polygon points="784.7,428.7 796,428.6 796.1,438.9 784.8,439" fill="#2f8dc1"/><polygon points="796,428.6 807.3,428.4 807.4,438.8 796.1,438.9" fill="#7dcdc5"/><polygon points="807.3,428.5 818.6,428.3 818.7,438.7 807.4,438.8" fill="#07458a"/><polygon points="818.6,428.3 829.9,428.2 830,438.5 818.7,438.7" fill="#2f8dc1"/><polygon points="829.9,428.2 841.2,428.1 841.3,438.4 830,438.5" fill="#ccebc6"/><polygon points="841.2,428.1 852.5,428 852.6,438.3 841.3,438.4" fill="#07458a"/><polygon points="852.5,428 863.8,427.9 863.9,438.2 852.6,438.3" fill="#2f8dc1"/><polygon points="728.3,439.6 739.6,439.5 739.7,449.8 728.4,449.9" fill="#2f8dc1"/><polygon points="739.6,439.5 750.9,439.4 751,449.7 739.7,449.8" fill="#07458a"/><polygon points="750.9,439.4 762.2,439.3 762.3,449.6 751,449.7" fill="#2f8dc1"/><polygon points="762.2,439.3 773.5,439.1 773.6,449.5 762.3,449.6" fill="#07458a"/><polygon points="773.5,439.1 784.8,439 784.9,449.3 773.6,449.5" fill="#07458a"/><polygon points="784.8,439 796.1,438.9 796.2,449.2 784.9,449.3" fill="#07458a"/><polygon points="796.1,438.9 807.4,438.8 807.5,449.1 796.2,449.2" fill="#2f8dc1"/><polygon points="807.4,438.8 818.7,438.7 818.8,449 807.5,449.1" fill="#2f8dc1"/><polygon points="818.7,438.7 830,438.5 830.1,448.9 818.8,449" fill="#07458a"/><polygon points="830,438.5 841.3,438.4 841.4,448.8 830.1,448.9" fill="#2f8dc1"/><polygon points="841.3,438.4 852.6,438.3 852.7,448.6 841.4,448.8" fill="#2f8dc1"/><polygon points="852.6,438.3 863.9,438.2 864,448.5 852.7,448.6" fill="#07458a"/><polygon points="728.4,449.9 739.7,449.8 739.8,460.2 728.5,460.3" fill="#2f8dc1"/><polygon points="739.7,449.8 751,449.7 751.1,460 739.8,460.2" fill="#2f8dc1"/><polygon points="751,449.7 762.3,449.6 762.4,459.9 751.1,460" fill="#07458a"/><polygon points="762.3,449.6 773.6,449.5 773.7,459.8 762.4,459.9" fill="#07458a"/><polygon points="773.6,449.5 784.9,449.3 785,459.7 773.7,459.8" fill="#2f8dc1"/><polygon points="784.9,449.3 796.2,449.2 796.3,459.6 785,459.7" fill="#07458a"/><polygon points="796.2,449.2 807.5,449.1 807.6,459.4 796.3,459.6" fill="#07458a"/><polygon points="807.5,449.1 818.8,449 818.9,459.3 807.6,459.4" fill="#2f8dc1"/><polygon points="818.8,449 830.1,448.9 830.2,459.2 818.9,459.3" fill="#2f8dc1"/><polygon points="830.1,448.9 841.4,448.8 841.5,459.1 830.2,459.2" fill="#07458a"/><polygon points="841.4,448.8 852.7,448.6 852.8,459 841.5,459.1" fill="#7dcdc5"/><polygon points="852.7,448.6 864,448.5 864.1,458.8 852.8,459" fill="#07458a"/><polygon points="728.5,460.3 739.8,460.2 739.9,470.5 728.6,470.6" fill="#2f8dc1"/><polygon points="739.8,460.2 751.1,460 751.2,470.4 739.9,470.5" fill="#2f8dc1"/><polygon points="751.1,460 762.4,459.9 762.5,470.2 751.2,470.4" fill="#2f8dc1"/><polygon points="762.4,459.9 773.7,459.8 773.8,470.1 762.5,470.2" fill="#07458a"/><polygon points="773.7,459.8 785,459.7 785.1,470 773.8,470.1" fill="#2f8dc1"/><polygon points="785,459.7 796.3,459.6 796.4,469.9 785.1,470" fill="#07458a"/><polygon points="796.3,459.6 807.6,459.4 807.7,469.8 796.4,469.9" fill="#07458a"/><polygon points="807.6,459.4 818.9,459.3 819,469.7 807.7,469.8" fill="#2f8dc1"/><polygon points="818.9,459.3 830.2,459.2 830.3,469.5 819,469.7" fill="#07458a"/><polygon points="830.2,459.2 841.5,459.1 841.6,469.4 830.3,469.5" fill="#2f8dc1"/><polygon points="841.5,459.1 852.8,459 852.9,469.3 841.6,469.4" fill="#7dcdc5"/><polygon points="852.8,459 864.1,458.8 864.2,469.2 852.9,469.3" fill="#2f8dc1"/><polygon points="728.6,470.6 739.9,470.5 740.1,480.8 728.8,480.9" fill="#2f8dc1"/><polygon points="739.9,470.5 751.2,470.4 751.4,480.7 740.1,480.8" fill="#07458a"/><polygon points="751.2,470.4 762.5,470.2 762.7,480.6 751.4,480.7" fill="#2f8dc1"/><polygon points="762.5,470.2 773.8,470.1 774,480.5 762.7,480.6" fill="#07458a"/><polygon points="773.8,470.1 785.1,470 785.3,480.3 774,480.5" fill="#2f8dc1"/><polygon points="785.1,470 796.4,469.9 796.6,480.2 785.3,480.3" fill="#07458a"/><polygon points="796.4,469.9 807.7,469.8 807.9,480.1 796.6,480.2" fill="#7dcdc5"/><polygon points="807.7,469.8 819,469.7 819.2,480 807.9,480.1" fill="#7dcdc5"/><polygon points="819,469.7 830.3,469.5 830.5,479.9 819.2,480" fill="#2f8dc1"/><polygon points="830.3,469.5 841.6,469.4 841.8,479.7 830.5,479.9" fill="#7dcdc5"/><polygon points="841.6,469.4 852.9,469.3 853.1,479.6 841.8,479.7" fill="#07458a"/><polygon points="852.9,469.3 864.2,469.2 864.4,479.5 853.1,479.6" fill="#07458a"/><polygon points="728.8,480.9 740.1,480.8 740.2,491.1 728.9,491.3" fill="#2f8dc1"/><polygon points="740.1,480.8 751.4,480.7 751.5,491 740.2,491.1" fill="#07458a"/><polygon points="751.4,480.7 762.7,480.6 762.8,490.9 751.5,491" fill="#2f8dc1"/><polygon points="762.7,480.6 774,480.5 774.1,490.8 762.8,490.9" fill="#2f8dc1"/><polygon points="774,480.5 785.3,480.3 785.4,490.7 774.1,490.8" fill="#07458a"/><polygon points="785.3,480.3 796.6,480.2 796.7,490.5 785.4,490.7" fill="#7dcdc5"/><polygon points="796.6,480.2 807.9,480.1 808,490.4 796.7,490.5" fill="#2f8dc1"/><polygon points="807.9,480.1 819.2,480 819.3,490.3 808,490.4" fill="#ccebc6"/><polygon points="819.2,480 830.5,479.9 830.6,490.2 819.3,490.3" fill="#07458a"/><polygon points="830.5,479.9 841.8,479.7 841.9,490.1 830.6,490.2" fill="#07458a"/><polygon points="841.8,479.7 853.1,479.6 853.2,489.9 841.9,490.1" fill="#07458a"/><polygon points="853.1,479.6 864.4,479.5 864.5,489.8 853.2,489.9" fill="#2f8dc1"/><polygon points="728.9,491.3 740.2,491.1 740.3,501.5 729,501.6" fill="#2f8dc1"/><polygon points="740.2,491.1 751.5,491 751.6,501.4 740.3,501.5" fill="#07458a"/><polygon points="751.5,491 762.8,490.9 762.9,501.2 751.6,501.4" fill="#2f8dc1"/><polygon points="762.8,490.9 774.1,490.8 774.2,501.1 762.9,501.2" fill="#2f8dc1"/><polygon points="774.1,490.8 785.4,490.7 785.5,501 774.2,501.1" fill="#07458a"/><polygon points="785.4,490.7 796.7,490.5 796.8,500.9 785.5,501" fill="#7dcdc5"/><polygon points="796.7,490.5 808,490.4 808.1,500.8 796.8,500.9" fill="#2f8dc1"/><polygon points="808,490.4 819.3,490.3 819.4,500.6 808.1,500.8" fill="#ccebc6"/><polygon points="819.3,490.3 830.6,490.2 830.7,500.5 819.4,500.6" fill="#07458a"/><polygon points="830.6,490.2 841.9,490.1 842,500.4 830.7,500.5" fill="#07458a"/><polygon points="841.9,490.1 853.2,490 853.3,500.3 842,500.4" fill="#07458a"/><polygon points="853.2,490 864.5,489.8 864.6,500.2 853.3,500.3" fill="#2f8dc1"/></g>
<g clip-path="url(#cMO)" stroke="#6f86b8" stroke-width="0.5"><polygon points="748.3,492.9 760,492.5 760.3,504.2 748.6,504.6" fill="#07458a"/><polygon points="760,492.5 771.8,492 772.1,503.8 760.3,504.2" fill="#07458a"/><polygon points="771.8,492 783.5,491.6 783.8,503.3 772.1,503.8" fill="#07458a"/><polygon points="783.5,491.6 795.3,491.1 795.6,502.9 783.8,503.3" fill="#07458a"/><polygon points="795.3,491.1 807,490.7 807.3,502.4 795.6,502.9" fill="#2f8dc1"/><polygon points="807,490.7 818.8,490.3 819.1,502 807.3,502.4" fill="#07458a"/><polygon points="818.8,490.3 830.5,489.8 830.8,501.6 819.1,502" fill="#ccebc6"/><polygon points="830.5,489.8 842.3,489.4 842.6,501.1 830.8,501.6" fill="#07458a"/><polygon points="842.3,489.4 854,488.9 854.3,500.7 842.6,501.1" fill="#2f8dc1"/><polygon points="854,488.9 865.8,488.5 866.1,500.2 854.3,500.7" fill="#2f8dc1"/><polygon points="748.6,504.6 760.3,504.2 760.6,516 748.9,516.4" fill="#07458a"/><polygon points="760.3,504.2 772.1,503.8 772.4,515.5 760.6,516" fill="#07458a"/><polygon points="772.1,503.8 783.8,503.3 784.1,515.1 772.4,515.5" fill="#07458a"/><polygon points="783.8,503.3 795.6,502.9 795.9,514.6 784.1,515.1" fill="#7dcdc5"/><polygon points="795.6,502.9 807.3,502.4 807.6,514.2 795.9,514.6" fill="#2f8dc1"/><polygon points="807.3,502.4 819.1,502 819.4,513.8 807.6,514.2" fill="#07458a"/><polygon points="819.1,502 830.8,501.6 831.1,513.3 819.4,513.8" fill="#2f8dc1"/><polygon points="830.8,501.6 842.6,501.1 842.9,512.9 831.1,513.3" fill="#07458a"/><polygon points="842.6,501.1 854.3,500.7 854.6,512.4 842.9,512.9" fill="#2f8dc1"/><polygon points="854.3,500.7 866.1,500.2 866.4,512 854.6,512.4" fill="#2f8dc1"/><polygon points="748.9,516.4 760.6,516 760.9,527.7 749.2,528.1" fill="#07458a"/><polygon points="760.6,516 772.4,515.5 772.7,527.3 760.9,527.7" fill="#07458a"/><polygon points="772.4,515.5 784.1,515.1 784.4,526.8 772.7,527.3" fill="#2f8dc1"/><polygon points="784.1,515.1 795.9,514.6 796.2,526.4 784.4,526.8" fill="#7dcdc5"/><polygon points="795.9,514.6 807.6,514.2 807.9,525.9 796.2,526.4" fill="#07458a"/><polygon points="807.6,514.2 819.4,513.8 819.7,525.5 807.9,526" fill="#07458a"/><polygon points="819.4,513.8 831.1,513.3 831.4,525.1 819.7,525.5" fill="#07458a"/><polygon points="831.1,513.3 842.9,512.9 843.2,524.6 831.4,525.1" fill="#07458a"/><polygon points="842.9,512.9 854.6,512.4 854.9,524.2 843.2,524.6" fill="#07458a"/><polygon points="854.6,512.4 866.4,512 866.7,523.8 854.9,524.2" fill="#07458a"/><polygon points="866.4,512 878.1,511.6 878.4,523.3 866.7,523.8" fill="#07458a"/><polygon points="749.2,528.1 760.9,527.7 761.2,539.5 749.5,539.9" fill="#07458a"/><polygon points="760.9,527.7 772.7,527.3 773,539 761.2,539.5" fill="#07458a"/><polygon points="772.7,527.3 784.4,526.8 784.7,538.6 773,539" fill="#07458a"/><polygon points="784.4,526.8 796.2,526.4 796.5,538.1 784.7,538.6" fill="#07458a"/><polygon points="796.2,526.4 807.9,525.9 808.2,537.7 796.5,538.1" fill="#07458a"/><polygon points="807.9,526 819.7,525.5 820,537.3 808.2,537.7" fill="#07458a"/><polygon points="819.7,525.5 831.4,525.1 831.7,536.8 820,537.3" fill="#07458a"/><polygon points="831.4,525.1 843.2,524.6 843.5,536.4 831.7,536.8" fill="#07458a"/><polygon points="843.2,524.6 854.9,524.2 855.2,535.9 843.5,536.4" fill="#2f8dc1"/><polygon points="854.9,524.2 866.7,523.8 867,535.5 855.2,535.9" fill="#07458a"/><polygon points="866.7,523.8 878.4,523.3 878.7,535.1 867,535.5" fill="#07458a"/><polygon points="749.5,539.9 761.2,539.5 761.5,551.2 749.8,551.6" fill="#2f8dc1"/><polygon points="761.2,539.5 773,539 773.3,550.8 761.5,551.2" fill="#2f8dc1"/><polygon points="773,539 784.8,538.6 785,550.3 773.3,550.8" fill="#2f8dc1"/><polygon points="784.8,538.6 796.5,538.1 796.8,549.9 785,550.3" fill="#2f8dc1"/><polygon points="796.5,538.1 808.2,537.7 808.5,549.4 796.8,549.9" fill="#7dcdc5"/><polygon points="808.2,537.7 820,537.3 820.3,549 808.5,549.5" fill="#2f8dc1"/><polygon points="820,537.3 831.8,536.8 832,548.6 820.3,549" fill="#07458a"/><polygon points="831.8,536.8 843.5,536.4 843.8,548.1 832,548.6" fill="#07458a"/><polygon points="843.5,536.4 855.2,535.9 855.5,547.7 843.8,548.1" fill="#07458a"/><polygon points="855.2,535.9 867,535.5 867.3,547.2 855.5,547.7" fill="#2f8dc1"/><polygon points="867,535.5 878.8,535.1 879,546.8 867.3,547.2" fill="#07458a"/><polygon points="878.8,535.1 890.5,534.6 890.8,546.4 879,546.8" fill="#2f8dc1"/><polygon points="749.8,551.6 761.5,551.2 761.8,563 750.1,563.4" fill="#2f8dc1"/><polygon points="761.5,551.2 773.3,550.8 773.6,562.5 761.8,563" fill="#2f8dc1"/><polygon points="773.3,550.8 785,550.3 785.3,562.1 773.6,562.5" fill="#2f8dc1"/><polygon points="785,550.3 796.8,549.9 797.1,561.6 785.3,562.1" fill="#2f8dc1"/><polygon points="796.8,549.9 808.5,549.4 808.8,561.2 797.1,561.6" fill="#2f8dc1"/><polygon points="808.5,549.5 820.3,549 820.6,560.8 808.8,561.2" fill="#07458a"/><polygon points="820.3,549 832,548.6 832.3,560.3 820.6,560.8" fill="#07458a"/><polygon points="832,548.6 843.8,548.1 844.1,559.9 832.3,560.3" fill="#07458a"/><polygon points="843.8,548.1 855.5,547.7 855.8,559.4 844.1,559.9" fill="#07458a"/><polygon points="855.5,547.7 867.3,547.2 867.6,559 855.8,559.4" fill="#2f8dc1"/><polygon points="867.3,547.2 879,546.8 879.3,558.6 867.6,559" fill="#07458a"/><polygon points="879,546.8 890.8,546.4 891.1,558.1 879.3,558.6" fill="#2f8dc1"/><polygon points="750.1,563.4 761.8,563 762.1,574.7 750.4,575.1" fill="#07458a"/><polygon points="761.8,563 773.6,562.5 773.9,574.3 762.1,574.7" fill="#07458a"/><polygon points="773.6,562.5 785.3,562.1 785.6,573.8 773.9,574.3" fill="#07458a"/><polygon points="785.3,562.1 797.1,561.6 797.4,573.4 785.6,573.8" fill="#07458a"/><polygon points="797.1,561.6 808.8,561.2 809.1,572.9 797.4,573.4" fill="#2f8dc1"/><polygon points="808.8,561.2 820.6,560.8 820.9,572.5 809.1,573" fill="#2f8dc1"/><polygon points="820.6,560.8 832.3,560.3 832.6,572.1 820.9,572.5" fill="#07458a"/><polygon points="832.3,560.3 844.1,559.9 844.4,571.6 832.6,572.1" fill="#2f8dc1"/><polygon points="844.1,559.9 855.8,559.4 856.1,571.2 844.4,571.6" fill="#07458a"/><polygon points="855.8,559.4 867.6,559 867.9,570.8 856.1,571.2" fill="#07458a"/><polygon points="867.6,559 879.3,558.6 879.6,570.3 867.9,570.8" fill="#7dcdc5"/><polygon points="879.3,558.6 891.1,558.1 891.4,569.9 879.6,570.3" fill="#07458a"/><polygon points="891.1,558.1 902.8,557.7 903.1,569.4 891.4,569.9" fill="#07458a"/><polygon points="750.4,575.1 762.1,574.7 762.4,586.5 750.7,586.9" fill="#2f8dc1"/><polygon points="762.1,574.7 773.9,574.3 774.2,586 762.4,586.5" fill="#2f8dc1"/><polygon points="773.9,574.3 785.6,573.8 785.9,585.6 774.2,586" fill="#2f8dc1"/><polygon points="785.6,573.8 797.4,573.4 797.7,585.1 785.9,585.6" fill="#07458a"/><polygon points="797.4,573.4 809.1,572.9 809.4,584.7 797.7,585.1" fill="#07458a"/><polygon points="809.1,573 820.9,572.5 821.2,584.3 809.4,584.7" fill="#07458a"/><polygon points="820.9,572.5 832.6,572.1 832.9,583.8 821.2,584.3" fill="#2f8dc1"/><polygon points="832.6,572.1 844.4,571.6 844.7,583.4 832.9,583.8" fill="#2f8dc1"/><polygon points="844.4,571.6 856.1,571.2 856.4,582.9 844.7,583.4" fill="#2f8dc1"/><polygon points="856.1,571.2 867.9,570.8 868.2,582.5 856.4,582.9" fill="#2f8dc1"/><polygon points="867.9,570.8 879.6,570.3 879.9,582.1 868.2,582.5" fill="#07458a"/><polygon points="879.6,570.3 891.4,569.9 891.7,581.6 879.9,582.1" fill="#2f8dc1"/><polygon points="891.4,569.9 903.1,569.4 903.4,581.2 891.7,581.6" fill="#07458a"/><polygon points="903.1,569.4 914.9,569 915.2,580.7 903.4,581.2" fill="#07458a"/><polygon points="750.7,586.9 762.4,586.5 762.7,598.2 751,598.6" fill="#07458a"/><polygon points="762.4,586.5 774.2,586 774.5,597.8 762.7,598.2" fill="#07458a"/><polygon points="774.2,586 785.9,585.6 786.2,597.3 774.5,597.8" fill="#07458a"/><polygon points="785.9,585.6 797.7,585.1 798,596.9 786.2,597.3" fill="#2f8dc1"/><polygon points="797.7,585.1 809.4,584.7 809.7,596.4 798,596.9" fill="#07458a"/><polygon points="809.4,584.7 821.2,584.3 821.5,596 809.7,596.5" fill="#07458a"/><polygon points="821.2,584.3 832.9,583.8 833.2,595.6 821.5,596" fill="#7dcdc5"/><polygon points="832.9,583.8 844.7,583.4 845,595.1 833.2,595.6" fill="#07458a"/><polygon points="844.7,583.4 856.4,582.9 856.7,594.7 845,595.1" fill="#ccebc6"/><polygon points="856.4,582.9 868.2,582.5 868.5,594.2 856.7,594.7" fill="#2f8dc1"/><polygon points="868.2,582.5 879.9,582.1 880.2,593.8 868.5,594.2" fill="#2f8dc1"/><polygon points="879.9,582.1 891.7,581.6 892,593.4 880.2,593.8" fill="#2f8dc1"/><polygon points="891.7,581.6 903.4,581.2 903.7,592.9 892,593.4" fill="#07458a"/><polygon points="903.4,581.2 915.2,580.7 915.5,592.5 903.7,592.9" fill="#07458a"/><polygon points="915.2,580.7 926.9,580.3 927.2,592 915.5,592.5" fill="#07458a"/><polygon points="751,598.6 762.8,598.2 763,610 751.3,610.4" fill="#07458a"/><polygon points="762.8,598.2 774.5,597.8 774.8,609.5 763,610" fill="#07458a"/><polygon points="774.5,597.8 786.2,597.3 786.5,609.1 774.8,609.5" fill="#07458a"/><polygon points="786.2,597.3 798,596.9 798.3,608.6 786.5,609.1" fill="#2f8dc1"/><polygon points="798,596.9 809.8,596.4 810,608.2 798.3,608.6" fill="#2f8dc1"/><polygon points="809.8,596.5 821.5,596 821.8,607.8 810,608.2" fill="#2f8dc1"/><polygon points="821.5,596 833.2,595.6 833.5,607.3 821.8,607.8" fill="#7dcdc5"/><polygon points="833.2,595.6 845,595.1 845.3,606.9 833.5,607.3" fill="#2f8dc1"/><polygon points="845,595.1 856.8,594.7 857,606.4 845.3,606.9" fill="#ccebc6"/><polygon points="856.8,594.7 868.5,594.2 868.8,606 857,606.4" fill="#07458a"/><polygon points="868.5,594.2 880.2,593.8 880.5,605.6 868.8,606" fill="#2f8dc1"/><polygon points="880.2,593.8 892,593.4 892.3,605.1 880.5,605.6" fill="#07458a"/><polygon points="892,593.4 903.8,592.9 904,604.7 892.3,605.1" fill="#07458a"/><polygon points="903.8,592.9 915.5,592.5 915.8,604.2 904,604.7" fill="#07458a"/><polygon points="915.5,592.5 927.2,592 927.5,603.8 915.8,604.2" fill="#07458a"/><polygon points="751.3,610.4 763,610 763.3,621.7 751.6,622.1" fill="#2f8dc1"/><polygon points="763,610 774.8,609.5 775.1,621.3 763.3,621.7" fill="#2f8dc1"/><polygon points="774.8,609.5 786.5,609.1 786.8,620.8 775.1,621.3" fill="#2f8dc1"/><polygon points="786.5,609.1 798.3,608.6 798.6,620.4 786.8,620.8" fill="#07458a"/><polygon points="798.3,608.6 810,608.2 810.3,619.9 798.6,620.4" fill="#2f8dc1"/><polygon points="810,608.2 821.8,607.8 822.1,619.5 810.3,620" fill="#7dcdc5"/><polygon points="821.8,607.8 833.5,607.3 833.8,619.1 822.1,619.5" fill="#ccebc6"/><polygon points="833.5,607.3 845.3,606.9 845.6,618.6 833.8,619.1" fill="#7dcdc5"/><polygon points="845.3,606.9 857,606.4 857.3,618.2 845.6,618.6" fill="#07458a"/><polygon points="857,606.4 868.8,606 869.1,617.8 857.3,618.2" fill="#2f8dc1"/><polygon points="868.8,606 880.5,605.6 880.8,617.3 869.1,617.8" fill="#2f8dc1"/><polygon points="880.5,605.6 892.3,605.1 892.6,616.9 880.8,617.3" fill="#07458a"/><polygon points="892.3,605.1 904,604.7 904.3,616.4 892.6,616.9" fill="#07458a"/><polygon points="904,604.7 915.8,604.2 916.1,616 904.3,616.4" fill="#07458a"/><polygon points="915.8,604.2 927.5,603.8 927.8,615.5 916.1,616" fill="#07458a"/><polygon points="751.6,622.1 763.3,621.7 763.6,633.5 751.9,633.9" fill="#2f8dc1"/><polygon points="763.3,621.7 775.1,621.3 775.4,633 763.6,633.5" fill="#2f8dc1"/><polygon points="775.1,621.3 786.8,620.8 787.1,632.6 775.4,633" fill="#2f8dc1"/><polygon points="786.8,620.8 798.6,620.4 798.9,632.1 787.1,632.6" fill="#07458a"/><polygon points="798.6,620.4 810.3,619.9 810.6,631.7 798.9,632.1" fill="#2f8dc1"/><polygon points="810.3,620 822.1,619.5 822.4,631.3 810.6,631.7" fill="#7dcdc5"/><polygon points="822.1,619.5 833.8,619.1 834.1,630.8 822.4,631.3" fill="#ccebc6"/><polygon points="833.8,619.1 845.6,618.6 845.9,630.4 834.1,630.8" fill="#7dcdc5"/><polygon points="845.6,618.6 857.3,618.2 857.6,629.9 845.9,630.4" fill="#07458a"/><polygon points="857.3,618.2 869.1,617.8 869.4,629.5 857.6,629.9" fill="#2f8dc1"/><polygon points="869.1,617.8 880.8,617.3 881.1,629.1 869.4,629.5" fill="#2f8dc1"/><polygon points="880.8,617.3 892.6,616.9 892.9,628.6 881.1,629.1" fill="#07458a"/><polygon points="892.6,616.9 904.3,616.4 904.6,628.2 892.9,628.6" fill="#07458a"/><polygon points="904.3,616.4 916.1,616 916.4,627.7 904.6,628.2" fill="#07458a"/><polygon points="916.1,616 927.8,615.5 928.1,627.3 916.4,627.7" fill="#07458a"/></g>
<polygon points="558.75,617.5 636,622.5 635,685 655,695 680,702.5 692.5,708.75 712.5,707.5 720,712.5 732.5,713.75 757.5,707.5 775,717.5 790,720 792.5,735 795,770 802.5,795 800,825 797.5,832.5 785,845 775,845 765,855 747.5,867.5 725,880 710,892.5 697.5,900 700,910 695,922.5 692.5,937.5 701,960 697.5,963.75 672.5,955 655,945 645,925 635,905 620,885 612.5,865 600,850 585,836 560,832.5 550,837.5 537.5,857.5 517.5,842.5 500,822.5 495,800 475,780 462.5,772.5 451.8,756.3 548.5,761" fill="url(#tTX)"/>
<polygon points="714.9,223.8 757,225.6 757.9,213.1 763.3,213.1 766,231.9 780.4,235.5 798.3,234.6 810.9,239.1 821.7,246.3 830.6,249.9 846.8,247.2 871.9,251 857.6,262.4 843.2,276.8 830.6,285.8 821.7,296.5 819.9,310.9 812.7,319.9 808.2,327 812.7,337.8 810.9,354 819.9,364.7 836,377.3 843.2,384.5 845,397.5 727.4,398.8 730.1,366.5 728.3,339.6 721.2,328.8 726.5,321.7 727.4,312.7 722.9,282.2 717.6,249.9" fill="url(#tMN)"/>
<polygon points="821.8,295.4 836,293 848.5,293.8 860,298.6 866.2,296.2 884,305.1 903.4,309.9 916.3,314.8 929.2,316.4 925,332 917,350 922.8,360 927.6,368.1 929.2,384.2 927.6,400.4 929.2,416.6 928,424.6 864.6,425 851.7,410.1 848.5,392.3 842,381 827.5,368.1 814.5,355.2 811.3,345.5 809.7,324.5 819.4,308.3" fill="url(#tWI)"/>
<polygon points="989,312.8 1001.2,316.2 1006.6,318.9 1020,325.6 1025.4,340.4 1022.7,357.9 1016,367.3 1017.3,378.1 1028.1,375.4 1037.5,362 1042.9,363.3 1049.7,387.5 1052.4,401 1044.3,414.5 1036.2,433.3 1003.9,438.7 962.1,441.4 970.2,418.5 967.5,397 959.4,383.5 959.4,367.3 963.5,351.2 971.5,341.8 981,328.3" fill="url(#tMI)"/>
<polygon points="866.2,296.2 875.9,288.9 895.3,279.2 909.9,266.3 905,282.5 916.3,284.1 929.2,293.8 945.4,292.2 961.6,287.3 977.7,281.7 982.6,290.5 997.1,288.9 1001.9,298.6 989,301.8 977.7,300.2 961.6,308.3 951.9,311.5 942.2,314.8 934.1,322.9 929.2,316.4 916.3,314.8 903.4,309.9 884,305.1" fill="url(#tMIU)"/>
<polygon points="914,597.5 931.5,591.7 938.8,578.5 953.3,571.3 967.9,568.3 979.6,562.5 995.6,561 1002.9,539.2 1016,526 1026.3,527.5 1035,536.3 1046.7,536.3 1061.3,532.6 1070,540.6 1070,550.8 1077.3,555.2 1087.5,566.9 1075.8,580 1070,591.7 1052.5,600.4 943.1,610.6 941.7,616.5 905,618.5 908,608" fill="url(#tKY)"/>
<polygon points="905,618.5 941.7,616.5 943.1,610.6 1052.5,600.4 1104.1,594 1097,611.2 1076.8,619.2 1066.7,631.3 1050.6,637.4 1042.5,647.5 1042.5,653.6 1009.2,657.6 945.6,663.7 892.1,665.7 897.1,645.5" fill="url(#tTN)"/>
<polygon points="945.6,663.7 1009.2,657.6 1022.3,700 1032.4,736.4 1036.5,752.5 1033.4,762.6 1040.5,785.8 968.8,791.9 967.8,799 973.9,807 971.8,815.1 961.7,813.1 959.7,803 951.6,812.1 947.6,797 944.6,756.5" fill="url(#tAL)"/>
<polygon points="1104.1,594 1246.5,570.5 1243.6,577 1253.3,589.1 1255.7,596.3 1241.2,603.6 1246,615.7 1243.6,625.4 1233.9,625.4 1224.2,637.5 1214.5,654.5 1209.7,661.8 1197.5,666.6 1166,643.6 1134.5,647.2 1122.4,637.5 1088.5,642.4 1070.5,652.5 1042.5,653.6 1042.5,647.5 1050.6,637.4 1066.7,631.3 1076.8,619.2 1097,611.2" fill="url(#tNC)"/>
<polygon points="1070.5,652.5 1088.5,642.4 1122.4,637.5 1134.5,647.2 1166,643.6 1197.5,666.6 1187.8,686 1175.7,705.4 1161.2,719.9 1146.6,732 1142,738 1132.1,717.5 1117.5,703 1103,688.4 1083.6,671.5" fill="url(#tSC)"/>
<polygon points="1187.5,492.5 1191.7,494.7 1206.8,499.3 1201,515.7 1215,520.3 1231.3,541.3 1230.2,551.8 1232.5,560 1245.3,562.4 1246.5,570.5 1104.1,594 1052.5,600.4 1070,591.7 1075.8,580 1087.5,566.9 1100.6,574.5 1120,564.8 1132.1,552.7 1136.9,543 1144.2,526 1153.9,518.8 1161.2,509.1 1170.9,493.3 1175.7,490.9 1183.75,497.5" fill="url(#tVA)"/>
<polygon points="1107.3,417.5 1119.8,409.2 1120.8,414.4 1222.9,393.5 1241.7,410.2 1236.5,433.1 1252.1,448.75 1241.7,463.3 1230.2,467.5 1117.7,487.3" fill="url(#tPA)"/>
<polygon points="1120.8,414.4 1120.8,410.2 1134.4,392.5 1138.5,380 1133.3,371.7 1141.7,367.5 1162.5,365.4 1181.25,361.25 1191.7,352.9 1189.6,330 1197.9,323.75 1220.8,298.75 1250,290.4 1254.2,313.3 1262.5,336.25 1266.7,359.2 1268.75,380 1271.9,405 1269.8,413.3 1264.6,423.75 1241.7,410.2 1222.9,393.5" fill="url(#tNY)"/>
<polygon points="968.8,791.9 1040.5,785.8 1044.5,792.9 1115,787.5 1117.5,792.5 1122.5,793.75 1125,782 1136,784 1144,806 1156,826 1170,846 1180,870 1192,892 1197,908 1197,924 1195,946 1186,950 1176,952 1172,940 1158,932 1150,920 1140,908 1136,900 1120,888 1124,876 1114,874 1116,860 1112,840 1104,832 1096,826 1084,816 1070,810 1058,814 1040,824 1026,814 1010,806 995,807.5 972.5,812.5 973.9,807 967.8,799" fill="url(#tFL)"/>
<polygon points="1143.75,482.5 1218.5,470 1215,487.7 1212.7,493.5 1218.5,501.7 1220.8,515.7 1228,531 1215,520.3 1201,515.7 1206.8,499.3 1191.7,494.7 1187.5,492.5 1180,482.5 1170,480 1157.5,485 1145,497.5" fill="url(#tMD)"/>
<polygon points="1241.7,410.2 1264.6,423.75 1266.7,438.3 1268.75,452.9 1262.5,473.75 1256.25,485.2 1239.6,473.75 1237.5,465.4 1252.1,448.75 1236.5,433.1" fill="url(#tNJ)"/>
<polygon points="1268.75,380 1306.25,372.7 1309.4,389.4 1283.3,400.8 1271.9,405" fill="url(#tCT)"/>
<polygon points="1266.7,359.2 1279.2,354 1316.7,344.6 1322.9,342.5 1324,350.8 1320.8,357.1 1329.2,363.3 1335.4,371.7 1339.6,375.8 1350,369.6 1341.7,377.9 1331.25,380 1327.1,382.1 1320.8,375.8 1316.7,371.7 1306.25,372.7 1268.75,380" fill="url(#tMA)"/>
<polygon points="425.9,458.3 592.5,476 585.5,603 408.6,584.5" fill="url(#tCO)"/>
<g fill="none" stroke="#f6f6f6" stroke-width="1.8" stroke-linejoin="round">
<polygon points="291,174.5 310,179 310,205 312.5,225 335,257.5 325,290 337.5,292.5 345,315 355,330 387.5,335 395,327.5 382.6,419.8 313.8,408.5 247.5,390 260,322.5 260,317.5 281,280 275,264"/>
<polygon points="310,179 400,195.5 475,206 566,216 559,316 557,344 396,323 395,327.5 387.5,335 355,330 345,315 337.5,292.5 325,290 335,257.5 312.5,225 310,205"/>
<polygon points="396,323 557,344 553,408 548,471 425.9,458.3 379,450.2 382.6,419.8"/>
<polygon points="566,216 650,221 714.9,223.8 717.6,249.9 722.9,282.2 727.4,312.7 726.5,320 559.2,315.2"/>
<polygon points="552.5,406 672.5,408 692.5,420 712.5,418 725,426 735,452.5 745,490 755,512.7 592.5,509 592.5,476 548,471"/>
<polygon points="776,622.5 887.5,619 890,634 901,632.5 905,620 895,647.5 892.5,665 880,682.5 870,702.5 866,720 870,733.75 792.5,735.5 790,720 780,705"/>
<polygon points="792.5,735.5 870,733.75 872.5,760 862.5,780 858.75,795 910,797.5 912.5,815 917.5,820 912.5,827.5 917.5,832.5 920,845 930,855 910,845 895,852.5 882.5,855 860,845 847.5,840 825,840 800,832.5 800,825 802.5,795 795,770"/>
<polygon points="892.1,665.7 945.6,663.7 944.6,756.5 947.6,797 950,812.5 932.5,812.5 917.5,820 912.5,815 910,797.5 858.75,795 862.5,780 872.5,760 870,733.75 866,720 870,702.5 880,682.5"/>
<polygon points="864.6,425 928,424.6 938,432 943.75,447.5 947.5,540 937.5,565 931.5,591.7 914,597.5 908,608 905,595 892.5,577.5 880,560 880,545 870,540 862.5,527.5 850,512.5 847.5,497.5 845,494 850,490 857.5,480 860,462.5 872.5,455 876,445 870,432.5"/>
<polygon points="943.75,447.5 962.1,441.4 1003.9,438.7 1013,527 1002.9,539.2 995.6,561 979.6,562.5 967.9,568.3 953.3,571.3 938.8,578.5 931.5,591.7 937.5,565 947.5,540"/>
<polygon points="1003.9,438.7 1036.2,433.3 1045.7,437.7 1061.8,444 1078,438.6 1092.3,426.9 1107.3,417.5 1112,470 1106.7,495.1 1097.7,502.3 1088.7,513.1 1081.6,522.1 1078,534.6 1077.3,555.2 1070,550.8 1070,540.6 1061.3,532.6 1046.7,536.3 1035,536.3 1026.3,527.5 1016,526 1013,527"/>
<polygon points="1112,470 1115,465 1117.7,487.3 1143.75,482.5 1145,497.5 1157.5,485 1170,480 1180,482.5 1187.5,492.5 1183.75,497.5 1175.7,490.9 1170.9,493.3 1161.2,509.1 1153.9,518.8 1144.2,526 1136.9,543 1132.1,552.7 1120,564.8 1100.6,574.5 1087.5,566.9 1077.3,555.2 1078,534.6 1081.6,522.1 1088.7,513.1 1097.7,502.3 1106.7,495.1"/>
<polygon points="1280.2,283.1 1295,272.5 1300,270 1310.4,311.25 1318.75,332.1 1322.9,342.5 1316.7,344.6 1279.2,354 1278.1,342.5 1281.25,321.7 1284.4,296.7"/>
<polygon points="1231.3,469 1240,478 1248,490 1254.7,506.3 1238.3,507.5 1234.8,493.5 1231.3,478.3"/>
<polygon points="1009.2,657.6 1042.5,653.6 1070.5,652.5 1083.6,671.5 1103,688.4 1117.5,703 1132.1,717.5 1142,738 1142.5,745 1137.5,762.5 1135,780 1125,782.5 1122.5,793.75 1117.5,792.5 1115,787.5 1044.5,792.9 1040.5,785.8 1033.4,762.6 1036.5,752.5 1032.4,736.4 1022.3,700"/>
</g>
<g fill="none" stroke="#a9dcfa" stroke-width="1.7" stroke-linejoin="round">
<polygon points="128,154.4 139,156 151,164 161,171 165.6,172.5 161.9,182.5 155.6,191.25 153.75,199.4 160,202.5 169.4,193.75 171.25,183.75 176.9,176.25 178.75,160 177,145.6 291.25,174.4 273.5,265 252.5,260.6 230,256.9 207.5,255.6 190,258 175,255 161.7,251.25 149.5,246.7 146.4,233 137.2,223.75 126.5,217 131.25,201.25 128.75,177.5"/>
<polygon points="126.5,222 137.2,223.75 146.4,233 149.5,246.7 161.7,251.25 175,255 190,258 207.5,255.6 230,256.9 252.5,260.6 273.5,265 282.4,280.3 258,317 259.5,323 247.5,390 175,376 80.7,348.5 85.3,320 100.6,295.6 115.8,260.4"/>
<polygon points="80.2,349.2 177.2,376.7 152.8,466.8 255.6,622 260,635 265,650 252.5,660 245,677.5 247.5,690 242.5,697.5 177.5,687.5 170,660 155,645 152.5,637.5 137.2,630 131.1,622 103.6,597.5 102,576 94.4,557.8 85.3,536.4 92.9,524.2 82.2,505.8 85.3,484.4 79.2,487.5 76.4,471.4 74.9,456 67.2,437.8 70.3,419.5 64.2,404 64.2,395 81,367.5"/>
<polygon points="177.2,376.7 313.8,408.5 283.5,566.5 281,587.5 272.5,595 262.5,590 258.75,600 255.6,622 152.8,466.8"/>
<polygon points="313.8,408.5 382.6,419.8 379,450.2 425.9,458.3 408.6,584.5 283.5,566.5"/>
<polygon points="425.9,458.3 592.5,476 585.5,603 408.6,584.5"/>
<polygon points="283.5,566.5 408.6,584.5 384.5,766 325,755 237.5,702.5 242.5,697.5 247.5,690 245,677.5 252.5,660 265,650 260,635 257.5,622.5 258.75,600 262.5,590 272.5,595 280,587.5"/>
<polygon points="408.6,584.5 561.3,602.5 558.75,617.5 548.5,761 451.8,756.3 406.9,754.5 405.1,767 384.5,766"/>
<polygon points="559.2,315.2 723.7,320 721,329.4 727.8,340.2 729.2,361.9 727.1,397 725.1,402.5 726.4,422.8 714.3,420 700.7,417.4 691.2,420 675,412 647.9,411 552,407.5"/>
<polygon points="592.4,508 755,512.4 765.2,517.5 762.3,526.25 774,537.9 775.5,608.5 585.8,603.5"/>
<polygon points="561,602.5 586,604 776,609.5 776,622.5 780,705 790,720 775,717.5 757.5,707.5 732.5,713.75 720,712.5 712.5,707.5 692.5,708.75 680,702.5 655,695 635,685 636,622.5 558.75,617.5"/>
<polygon points="558.75,617.5 636,622.5 635,685 655,695 680,702.5 692.5,708.75 712.5,707.5 720,712.5 732.5,713.75 757.5,707.5 775,717.5 790,720 792.5,735 795,770 802.5,795 800,825 797.5,832.5 785,845 775,845 765,855 747.5,867.5 725,880 710,892.5 697.5,900 700,910 695,922.5 692.5,937.5 701,960 697.5,963.75 672.5,955 655,945 645,925 635,905 620,885 612.5,865 600,850 585,836 560,832.5 550,837.5 537.5,857.5 517.5,842.5 500,822.5 495,800 475,780 462.5,772.5 451.8,756.3 548.5,761"/>
<polygon points="714.9,223.8 757,225.6 757.9,213.1 763.3,213.1 766,231.9 780.4,235.5 798.3,234.6 810.9,239.1 821.7,246.3 830.6,249.9 846.8,247.2 871.9,251 857.6,262.4 843.2,276.8 830.6,285.8 821.7,296.5 819.9,310.9 812.7,319.9 808.2,327 812.7,337.8 810.9,354 819.9,364.7 836,377.3 843.2,384.5 845,397.5 727.4,398.8 730.1,366.5 728.3,339.6 721.2,328.8 726.5,321.7 727.4,312.7 722.9,282.2 717.6,249.9"/>
<polygon points="727.8,398.6 845,397.5 843.8,407.4 852.3,412.3 864.6,425 873,436.6 876.6,445.1 874.2,453.6 860.8,459.7 857.2,467 858.4,475.5 851.1,485.2 847.5,491.3 842.6,490.1 747.8,492.5 741.7,473.1 736.9,451.2 730.8,436.6 724.7,422 725.9,409.9"/>
<polygon points="747.8,492.5 842.6,490.1 849.2,498.4 850.6,512.3 860.3,527.5 868.6,537.2 870,544.1 881,544.1 878.3,563.4 889.3,574.5 899,582.8 903.1,596.6 911.4,606.3 910.1,613.2 904.5,617.3 900.4,632.5 889.3,635.3 892.1,629.8 887.9,620.8 775.9,620.8 774,537.9 762.3,526.25 765.2,517.5 757.5,510"/>
<polygon points="945.6,663.7 1009.2,657.6 1022.3,700 1032.4,736.4 1036.5,752.5 1033.4,762.6 1040.5,785.8 968.8,791.9 967.8,799 973.9,807 971.8,815.1 961.7,813.1 959.7,803 951.6,812.1 947.6,797 944.6,756.5"/>
<polygon points="905,618.5 941.7,616.5 943.1,610.6 1052.5,600.4 1104.1,594 1097,611.2 1076.8,619.2 1066.7,631.3 1050.6,637.4 1042.5,647.5 1042.5,653.6 1009.2,657.6 945.6,663.7 892.1,665.7 897.1,645.5"/>
<polygon points="914,597.5 931.5,591.7 938.8,578.5 953.3,571.3 967.9,568.3 979.6,562.5 995.6,561 1002.9,539.2 1016,526 1026.3,527.5 1035,536.3 1046.7,536.3 1061.3,532.6 1070,540.6 1070,550.8 1077.3,555.2 1087.5,566.9 1075.8,580 1070,591.7 1052.5,600.4 943.1,610.6 941.7,616.5 905,618.5 908,608"/>
<polygon points="821.8,295.4 836,293 848.5,293.8 860,298.6 866.2,296.2 884,305.1 903.4,309.9 916.3,314.8 929.2,316.4 925,332 917,350 922.8,360 927.6,368.1 929.2,384.2 927.6,400.4 929.2,416.6 928,424.6 864.6,425 851.7,410.1 848.5,392.3 842,381 827.5,368.1 814.5,355.2 811.3,345.5 809.7,324.5 819.4,308.3"/>
<polygon points="866.2,296.2 875.9,288.9 895.3,279.2 909.9,266.3 905,282.5 916.3,284.1 929.2,293.8 945.4,292.2 961.6,287.3 977.7,281.7 982.6,290.5 997.1,288.9 1001.9,298.6 989,301.8 977.7,300.2 961.6,308.3 951.9,311.5 942.2,314.8 934.1,322.9 929.2,316.4 916.3,314.8 903.4,309.9 884,305.1"/>
<polygon points="989,312.8 1001.2,316.2 1006.6,318.9 1020,325.6 1025.4,340.4 1022.7,357.9 1016,367.3 1017.3,378.1 1028.1,375.4 1037.5,362 1042.9,363.3 1049.7,387.5 1052.4,401 1044.3,414.5 1036.2,433.3 1003.9,438.7 962.1,441.4 970.2,418.5 967.5,397 959.4,383.5 959.4,367.3 963.5,351.2 971.5,341.8 981,328.3"/>
<polygon points="1107.3,417.5 1119.8,409.2 1120.8,414.4 1222.9,393.5 1241.7,410.2 1236.5,433.1 1252.1,448.75 1241.7,463.3 1230.2,467.5 1117.7,487.3"/>
<polygon points="1120.8,414.4 1120.8,410.2 1134.4,392.5 1138.5,380 1133.3,371.7 1141.7,367.5 1162.5,365.4 1181.25,361.25 1191.7,352.9 1189.6,330 1197.9,323.75 1220.8,298.75 1250,290.4 1254.2,313.3 1262.5,336.25 1266.7,359.2 1268.75,380 1271.9,405 1269.8,413.3 1264.6,423.75 1241.7,410.2 1222.9,393.5"/>
<polygon points="1266.7,425.8 1272.9,419.6 1287.5,413.3 1304.2,407.1 1300,413.3 1283.3,421.7 1268.75,427.9"/>
<polygon points="1241.7,410.2 1264.6,423.75 1266.7,438.3 1268.75,452.9 1262.5,473.75 1256.25,485.2 1239.6,473.75 1237.5,465.4 1252.1,448.75 1236.5,433.1"/>
<polygon points="1268.75,380 1306.25,372.7 1309.4,389.4 1283.3,400.8 1271.9,405"/>
<polygon points="1306.25,372.7 1316.7,371.7 1317.7,384.2 1313.5,390.4 1309.4,389.4"/>
<polygon points="1266.7,359.2 1279.2,354 1316.7,344.6 1322.9,342.5 1324,350.8 1320.8,357.1 1329.2,363.3 1335.4,371.7 1339.6,375.8 1350,369.6 1341.7,377.9 1331.25,380 1327.1,382.1 1320.8,375.8 1316.7,371.7 1306.25,372.7 1268.75,380"/>
<polygon points="1250,290.4 1280.2,283.1 1284.4,296.7 1281.25,321.7 1278.1,342.5 1279.2,354 1266.7,359.2 1262.5,336.25 1254.2,313.3"/>
<polygon points="1300,270 1306,245 1310,210 1317.5,191 1325,197.5 1337.5,189.5 1350,192.5 1360,235 1372.5,237.5 1385,255 1380,267.5 1365,280 1355,282.5 1345,300 1330,315 1320,332.5 1310.4,311.25"/>
<polygon points="1143.75,482.5 1218.5,470 1215,487.7 1212.7,493.5 1218.5,501.7 1220.8,515.7 1228,531 1215,520.3 1201,515.7 1206.8,499.3 1191.7,494.7 1187.5,492.5 1180,482.5 1170,480 1157.5,485 1145,497.5"/>
<polygon points="1226.7,474.8 1229,467.8 1231.3,469 1231.3,478.3 1234.8,493.5 1238.3,507.5 1254.7,506.3 1250,520.3 1243,522.7 1239.5,515.7 1229,512.2 1226.7,501.7 1224.3,484.2"/>
<polygon points="1246.5,522.7 1250.5,522.7 1245.8,539 1241.8,549 1241.5,536.7"/>
<polygon points="1187.5,492.5 1191.7,494.7 1206.8,499.3 1201,515.7 1215,520.3 1231.3,541.3 1230.2,551.8 1232.5,560 1245.3,562.4 1246.5,570.5 1104.1,594 1052.5,600.4 1070,591.7 1075.8,580 1087.5,566.9 1100.6,574.5 1120,564.8 1132.1,552.7 1136.9,543 1144.2,526 1153.9,518.8 1161.2,509.1 1170.9,493.3 1175.7,490.9 1183.75,497.5"/>
<polygon points="1104.1,594 1246.5,570.5 1243.6,577 1253.3,589.1 1255.7,596.3 1241.2,603.6 1246,615.7 1243.6,625.4 1233.9,625.4 1224.2,637.5 1214.5,654.5 1209.7,661.8 1197.5,666.6 1166,643.6 1134.5,647.2 1122.4,637.5 1088.5,642.4 1070.5,652.5 1042.5,653.6 1042.5,647.5 1050.6,637.4 1066.7,631.3 1076.8,619.2 1097,611.2"/>
<polygon points="1070.5,652.5 1088.5,642.4 1122.4,637.5 1134.5,647.2 1166,643.6 1197.5,666.6 1187.8,686 1175.7,705.4 1161.2,719.9 1146.6,732 1142,738 1132.1,717.5 1117.5,703 1103,688.4 1083.6,671.5"/>
<polygon points="968.8,791.9 1040.5,785.8 1044.5,792.9 1115,787.5 1117.5,792.5 1122.5,793.75 1125,782 1136,784 1144,806 1156,826 1170,846 1180,870 1192,892 1197,908 1197,924 1195,946 1186,950 1176,952 1172,940 1158,932 1150,920 1140,908 1136,900 1120,888 1124,876 1114,874 1116,860 1112,840 1104,832 1096,826 1084,816 1070,810 1058,814 1040,824 1026,814 1010,806 995,807.5 972.5,812.5 973.9,807 967.8,799"/>
<polygon points="180,819 194.8,824.3 217,825 225.9,830.2 239.2,902.7 248.1,902.7 260,899.8 274.8,911.6 294,925 294,932.4 283.7,936.8 270.3,922 255.5,911.6 239.2,905.7 224.4,905.7 218.5,899.8 212.6,907.2 203.7,899.8 196.3,907.2 190.3,920.5 182.9,932.4 166.6,944.2 144.4,951.6 116.3,959 114.8,956 141.5,947.2 162.2,936.8 177,923.5 171.1,917.6 156.3,919 154.8,911.6 147.4,905.7 142.9,892.4 150.4,883.5 165.2,876.1 163.7,870.2 148.9,870.2 141.5,859.8 159.2,855.4 162.2,852.4 150.4,837.6 163.7,828.7" stroke="#c4c4c4" stroke-width="0.9"/>
<polygon points="184.4,935.3 194.8,922 196.3,927.9 188.9,936.8" stroke="#c4c4c4" stroke-width="0.9"/>
</g>
</g>
<text x="729" y="99.3" text-anchor="middle" font-family="'DejaVu Sans','Liberation Sans',sans-serif" font-weight="bold" font-size="36" fill="#0d0d0d" stroke="#0d0d0d" stroke-width="0.35" textLength="721" lengthAdjust="spacingAndGlyphs">Pre-Pandemic MMR Vaccination Rates</text>
<g font-family="'DejaVu Sans','Liberation Sans',sans-serif" fill="#333">
<text x="1221" y="818.5" font-size="16.8" textLength="200" lengthAdjust="spacingAndGlyphs">MMR Vaccination Rates</text>
<rect x="1223" y="833.7" width="42" height="21" fill="#f4faef" stroke="#b9b9b9" stroke-width="1"/>
<text x="1275" y="850.7" font-size="17.3" textLength="87" lengthAdjust="spacingAndGlyphs">≤ 72.00%</text>
<rect x="1223" y="866.4" width="42" height="21" fill="#ccebc6" stroke="#b9b9b9" stroke-width="1"/>
<text x="1275" y="883.4" font-size="17.3" textLength="154" lengthAdjust="spacingAndGlyphs">72.01% - 83.50%</text>
<rect x="1223" y="899.1" width="42" height="21" fill="#7dcdc5" stroke="#b9b9b9" stroke-width="1"/>
<text x="1275" y="916.1" font-size="17.3" textLength="154" lengthAdjust="spacingAndGlyphs">83.51% - 90.26%</text>
<rect x="1223" y="931.8" width="42" height="21" fill="#2f8dc1" stroke="#b9b9b9" stroke-width="1"/>
<text x="1275" y="948.8" font-size="17.3" textLength="154" lengthAdjust="spacingAndGlyphs">90.27% - 94.90%</text>
<rect x="1223" y="964.5" width="42" height="21" fill="#07458a" stroke="#b9b9b9" stroke-width="1"/>
<text x="1275" y="981.5" font-size="17.3" textLength="87" lengthAdjust="spacingAndGlyphs">≥ 94.91%</text>
</g>
</svg></body></html>
